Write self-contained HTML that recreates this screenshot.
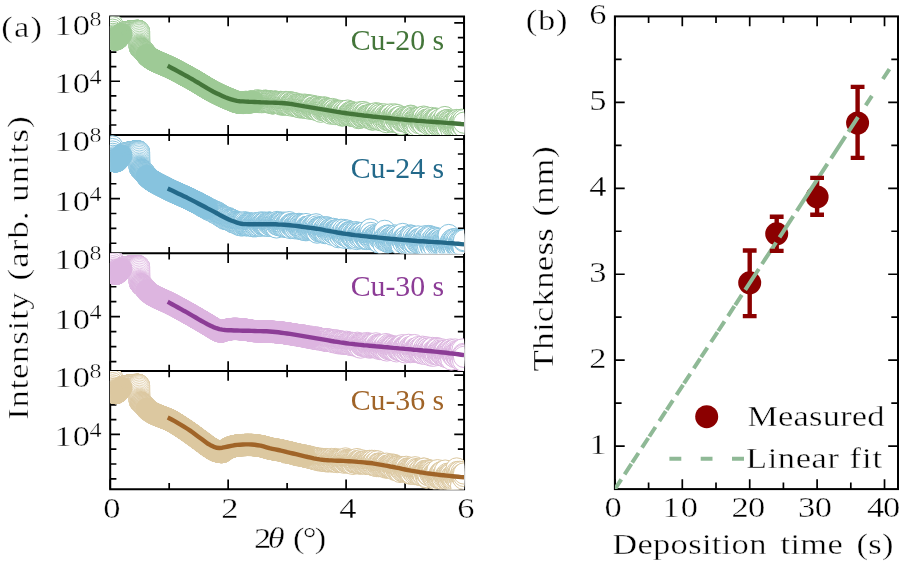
<!DOCTYPE html><html><head><meta charset="utf-8"><title>XRR figure</title><style>html,body{margin:0;padding:0;background:#fff}svg{display:block}</style></head><body><svg width="900" height="562" viewBox="0 0 900 562" font-family='"Liberation Serif", "DejaVu Serif", serif'>
<rect width="900" height="562" fill="#fff"/>
<path d="M110.20 16.40H464.05M110.20 134.90H464.05M110.20 253.20H464.05M110.20 371.00H464.05M110.20 489.20H464.05M110.20 15.40V490.20M464.05 15.40V490.20" stroke="#000" stroke-width="2.0" fill="none"/>
<path d="M110.20 16.40v9.8M110.20 134.90v-9.8M110.20 134.90v9.8M110.20 253.20v-9.8M110.20 253.20v9.8M110.20 371.00v-9.8M110.20 371.00v9.8M110.20 489.20v-9.8M169.18 16.40v6.2M169.18 134.90v-6.2M169.18 134.90v6.2M169.18 253.20v-6.2M169.18 253.20v6.2M169.18 371.00v-6.2M169.18 371.00v6.2M169.18 489.20v-6.2M228.15 16.40v9.8M228.15 134.90v-9.8M228.15 134.90v9.8M228.15 253.20v-9.8M228.15 253.20v9.8M228.15 371.00v-9.8M228.15 371.00v9.8M228.15 489.20v-9.8M287.12 16.40v6.2M287.12 134.90v-6.2M287.12 134.90v6.2M287.12 253.20v-6.2M287.12 253.20v6.2M287.12 371.00v-6.2M287.12 371.00v6.2M287.12 489.20v-6.2M346.10 16.40v9.8M346.10 134.90v-9.8M346.10 134.90v9.8M346.10 253.20v-9.8M346.10 253.20v9.8M346.10 371.00v-9.8M346.10 371.00v9.8M346.10 489.20v-9.8M405.07 16.40v6.2M405.07 134.90v-6.2M405.07 134.90v6.2M405.07 253.20v-6.2M405.07 253.20v6.2M405.07 371.00v-6.2M405.07 371.00v6.2M405.07 489.20v-6.2M464.05 16.40v9.8M464.05 134.90v-9.8M464.05 134.90v9.8M464.05 253.20v-9.8M464.05 253.20v9.8M464.05 371.00v-9.8M464.05 371.00v9.8M464.05 489.20v-9.8M110.20 125.01h6.2M464.05 125.01h-6.2M110.20 110.43h6.2M464.05 110.43h-6.2M110.20 95.85h6.2M464.05 95.85h-6.2M110.20 81.27h9.8M464.05 81.27h-9.8M110.20 66.69h6.2M464.05 66.69h-6.2M110.20 52.11h6.2M464.05 52.11h-6.2M110.20 37.53h6.2M464.05 37.53h-6.2M110.20 22.95h9.8M464.05 22.95h-9.8M110.20 243.26h6.2M464.05 243.26h-6.2M110.20 228.38h6.2M464.05 228.38h-6.2M110.20 213.50h6.2M464.05 213.50h-6.2M110.20 198.62h9.8M464.05 198.62h-9.8M110.20 183.74h6.2M464.05 183.74h-6.2M110.20 168.86h6.2M464.05 168.86h-6.2M110.20 153.98h6.2M464.05 153.98h-6.2M110.20 139.10h9.8M464.05 139.10h-9.8M110.20 361.59h6.2M464.05 361.59h-6.2M110.20 346.62h6.2M464.05 346.62h-6.2M110.20 331.65h6.2M464.05 331.65h-6.2M110.20 316.68h9.8M464.05 316.68h-9.8M110.20 301.71h6.2M464.05 301.71h-6.2M110.20 286.74h6.2M464.05 286.74h-6.2M110.20 271.77h6.2M464.05 271.77h-6.2M110.20 256.80h9.8M464.05 256.80h-9.8M110.20 478.80h6.2M464.05 478.80h-6.2M110.20 464.00h6.2M464.05 464.00h-6.2M110.20 449.20h6.2M464.05 449.20h-6.2M110.20 434.40h9.8M464.05 434.40h-9.8M110.20 419.60h6.2M464.05 419.60h-6.2M110.20 404.80h6.2M464.05 404.80h-6.2M110.20 390.00h6.2M464.05 390.00h-6.2M110.20 375.20h9.8M464.05 375.20h-9.8" stroke="#000" stroke-width="1.7" fill="none"/>
<clipPath id="c0"><rect x="110.20" y="16.40" width="353.85" height="118.50"/></clipPath>
<marker id="m0" markerUnits="userSpaceOnUse" markerWidth="24" markerHeight="24" refX="12" refY="12" overflow="visible"><circle cx="12" cy="12" r="10.65" fill="#fff" stroke="#9ECA96" stroke-width="1.0"/></marker>
<marker id="n0" markerUnits="userSpaceOnUse" markerWidth="24" markerHeight="24" refX="12" refY="12" overflow="visible"><circle cx="12" cy="12" r="10.65" fill="#fff" stroke="#9ECA96" stroke-width="0.75"/></marker>
<g clip-path="url(#c0)"><polyline points="112.26,24.50 112.41,27.19 112.56,29.70 112.71,31.96 112.85,33.93 113.00,35.54 113.15,36.75 113.30,37.50 113.44,37.96 113.59,38.34 113.74,38.64 113.89,38.86 114.03,39.00 114.18,39.09 114.33,39.18 114.48,39.26 114.62,39.33 114.77,39.39 114.92,39.43 115.07,39.47 115.21,39.49 115.36,39.50 115.51,39.50 115.66,39.48 115.80,39.45 115.95,39.42 116.10,39.37 116.24,39.32 116.39,39.26 116.54,39.19 116.69,39.12 116.83,39.04 116.98,38.96 117.13,38.88 117.28,38.80 117.42,38.71 117.57,38.59 117.72,38.45 117.87,38.29 118.01,38.12 118.16,37.94 118.31,37.75 118.46,37.54 118.60,37.34 118.75,37.13 118.90,36.93 119.05,36.72 119.19,36.53 119.34,36.34 119.49,36.16 119.64,36.00 119.78,35.84 119.93,35.69 120.08,35.53 120.23,35.37 120.37,35.21 120.52,35.06 120.67,34.90 120.82,34.75 120.96,34.61 121.11,34.47 121.26,34.33 121.41,34.21 121.55,34.09 121.70,33.98 121.85,33.89 122.00,33.80 122.14,33.72 122.29,33.64 122.44,33.57 122.58,33.50 122.73,33.43 122.88,33.36 123.03,33.29 123.17,33.23 123.32,33.17 123.47,33.11 123.62,33.05 123.76,33.00 123.91,32.94 124.06,32.89 124.21,32.84 124.35,32.79 124.50,32.74 124.65,32.69 124.80,32.65 124.94,32.61 125.09,32.56 125.24,32.52 125.39,32.48 125.53,32.44 125.68,32.41 125.83,32.37 125.98,32.33 126.12,32.30 126.27,32.27 126.42,32.23 126.57,32.20 126.71,32.17 126.86,32.14 127.01,32.11 127.16,32.08 127.30,32.05 127.45,32.02 127.60,31.99 127.75,31.96 127.89,31.94 128.04,31.91 128.19,31.88 128.33,31.86 128.48,31.83 128.63,31.81 128.78,31.79 128.92,31.76 129.07,31.74 129.22,31.72 129.37,31.70 129.51,31.68 129.66,31.65 129.81,31.63 129.96,31.61 130.10,31.59 130.25,31.57 130.40,31.56 130.55,31.54 130.69,31.52 130.84,31.50 130.99,31.48 131.14,31.46 131.28,31.45 131.43,31.43 131.58,31.41 131.73,31.40 131.87,31.38 132.02,31.36 132.17,31.35 132.32,31.33 132.46,31.31 132.61,31.30 132.76,31.28 132.91,31.27 133.05,31.25 133.20,31.24 133.35,31.23 133.50,31.21 133.64,31.20 133.79,31.19 133.94,31.17 134.08,31.16 134.23,31.15 134.38,31.14 134.53,31.13 134.67,31.12 134.82,31.11 134.97,31.10 135.12,31.09 135.26,31.08 135.41,31.07 135.56,31.06 135.71,31.05 135.85,31.04 136.00,31.03 136.15,31.03 136.30,31.02 136.44,31.01 136.59,31.00 136.74,30.99 136.89,30.98 137.03,30.98 137.18,30.97 137.33,30.97 137.48,30.96 137.62,30.96 137.77,30.95 137.92,30.95 138.07,30.95 138.21,30.95 138.36,30.95 138.51,30.97 138.66,31.00 138.80,31.06 138.95,31.33" fill="none" stroke="none" marker-start="url(#m0)" marker-mid="url(#m0)" marker-end="url(#m0)"/><polyline points="139.01,31.80 139.06,32.46 139.11,33.54 139.15,34.95 139.20,36.59 139.25,38.36 139.30,40.16 139.35,41.90 139.40,43.46 139.44,44.77 139.49,45.72 139.54,46.20 139.69,46.79 139.83,47.23 139.98,47.56 140.13,47.82 140.28,48.03 140.42,48.24 140.57,48.45 140.72,48.63 140.87,48.79" fill="none" stroke="none" marker-start="url(#n0)" marker-mid="url(#n0)" marker-end="url(#n0)"/><polyline points="141.01,48.94 141.16,49.09 141.31,49.22 141.46,49.35 141.60,49.47 141.75,49.60 141.90,49.72 142.05,49.84 142.19,49.94 142.34,50.05 142.49,50.15 142.64,50.26 142.78,50.38 142.93,50.50 143.08,50.64 143.23,50.78 143.37,50.93 143.52,51.09 143.67,51.25 143.82,51.41 143.96,51.58 144.11,51.75 144.26,51.92 144.41,52.09 144.55,52.26 144.70,52.43 144.85,52.60 145.00,52.77 145.14,52.95 145.29,53.12 145.44,53.30 145.59,53.48 145.88,53.85 146.17,54.22 146.47,54.58 146.76,54.93 147.06,55.27 147.35,55.59 147.65,55.89 147.94,56.16 148.24,56.42 148.53,56.67 148.83,56.92 149.12,57.15 149.42,57.38 149.71,57.60 150.01,57.81 150.30,58.02 150.60,58.22 150.89,58.42 151.19,58.61 151.48,58.80 151.78,58.98 152.07,59.16 152.37,59.34 152.66,59.51 152.96,59.67 153.25,59.83 153.55,59.99 153.84,60.15 154.14,60.30 154.43,60.45 154.73,60.60 155.02,60.75 155.32,60.89 155.61,61.04 155.91,61.18 156.20,61.32 156.50,61.45 156.79,61.59 157.09,61.72 157.38,61.86 157.67,61.99 157.97,62.12 158.26,62.25 158.56,62.38 158.85,62.51 159.15,62.64 159.44,62.77 159.74,62.90 160.03,63.03 160.33,63.16 160.62,63.28 160.92,63.41 161.21,63.53 161.51,63.66 161.80,63.78 162.10,63.90 162.39,64.03 162.69,64.15 162.98,64.27 163.28,64.40 163.57,64.52 163.87,64.65 164.16,64.77 164.46,64.90 164.75,65.03 165.05,65.16 165.34,65.28 165.64,65.41 165.93,65.54 166.23,65.67 166.52,65.80 166.82,65.93 167.11,66.06 167.41,66.19 167.70,66.32 168.00,66.45 168.29,66.59 168.59,66.72 168.88,66.86 169.18,67.00 169.47,67.14 169.76,67.28 170.06,67.42 170.35,67.57 170.65,67.71 170.94,67.85 171.24,68.00 171.53,68.14 171.83,68.29 172.12,68.43 172.42,68.58 172.71,68.72 173.01,68.87 173.30,69.02 173.60,69.17 173.89,69.32 174.19,69.47 174.48,69.62 174.78,69.77 175.07,69.92 175.37,70.07 175.66,70.22 175.96,70.38 176.25,70.53 176.55,70.68 176.84,70.84 177.14,70.99 177.43,71.14 177.73,71.30 178.02,71.45 178.32,71.61 178.61,71.77 178.91,71.92 179.20,72.08 179.50,72.24 179.79,72.39 180.09,72.55 180.38,72.71 180.68,72.87 180.97,73.03 181.26,73.19 181.56,73.35 181.85,73.51 182.15,73.67 182.44,73.83 182.74,73.99 183.03,74.15 183.33,74.31 183.62,74.47 183.92,74.63 184.21,74.79 184.51,74.95 184.80,75.12 185.10,75.28 185.39,75.44 185.69,75.60 185.98,75.77 186.28,75.93 186.57,76.09 186.87,76.25 187.16,76.42 187.46,76.58 187.75,76.74 188.05,76.91 188.34,77.07 188.64,77.23 188.93,77.40 189.23,77.56 189.52,77.73 189.82,77.89 190.11,78.05 190.41,78.22 190.70,78.38 191.00,78.54 191.29,78.71 191.59,78.87 191.88,79.04 192.18,79.20 192.47,79.36 192.77,79.53 193.06,79.70 193.35,79.86 193.65,80.03 193.94,80.20 194.24,80.37 194.53,80.54 194.83,80.71 195.12,80.89 195.42,81.06 195.71,81.23 196.01,81.41 196.30,81.58 196.60,81.76 196.89,81.94 197.19,82.11 197.48,82.29 197.78,82.47 198.07,82.65 198.37,82.82 198.66,83.00 198.96,83.18 199.25,83.36 199.55,83.54 199.84,83.72 200.14,83.90 200.43,84.08 200.73,84.27 201.02,84.45 201.32,84.63 201.61,84.81 201.91,84.99 202.20,85.17 202.50,85.35 202.79,85.53 203.09,85.71 203.38,85.89 203.68,86.07 203.97,86.25 204.27,86.43 204.56,86.61 204.85,86.79 205.15,86.97 205.44,87.15 205.74,87.33 206.03,87.51 206.33,87.68 206.62,87.86 206.92,88.04 207.21,88.21 207.51,88.39 207.80,88.56 208.10,88.73 208.39,88.91 208.69,89.08 208.98,89.25 209.28,89.42 209.57,89.59 209.87,89.76 210.16,89.93 210.46,90.09 210.75,90.26 211.05,90.42 211.34,90.59 211.64,90.75 211.93,90.91 212.23,91.07 212.52,91.23 212.82,91.39 213.11,91.54 213.41,91.70 213.70,91.85 214.00,92.00 214.29,92.16 214.59,92.31 214.88,92.45 215.18,92.60 215.47,92.75 215.77,92.89 216.06,93.04 216.36,93.18 216.65,93.33 216.94,93.48 217.24,93.62 217.53,93.77 217.83,93.92 218.12,94.06 218.42,94.21 218.71,94.35 219.01,94.50 219.30,94.64 219.60,94.78 219.89,94.92 220.19,95.06 220.48,95.20 220.78,95.36 221.07,95.51 221.37,95.61 221.66,95.74 221.96,95.90 222.25,96.09 222.55,96.09 222.84,96.34 223.14,96.41 223.43,96.63 223.73,96.67 224.02,96.84 224.32,96.91 224.61,97.06 224.91,97.33 225.20,97.43 225.50,97.48 225.79,97.57 226.09,97.63 226.38,97.86 226.68,98.01 226.97,98.13 227.27,98.25 227.56,98.28 227.86,98.49 228.15,98.62 228.44,98.86 228.74,99.04 229.03,98.97 229.33,99.02 229.62,99.21 229.92,99.27 230.21,99.37 230.51,99.57 230.80,99.58 231.10,99.91 231.39,99.95 231.69,100.12 231.98,100.19 232.28,100.25 232.57,100.35 232.87,100.57 233.16,100.65 233.46,100.89 233.75,100.99 234.05,100.91 234.34,101.24 234.64,101.14 234.93,101.37 235.23,101.54 235.52,101.35 235.82,101.82 236.11,101.93 236.41,101.98 236.70,102.02 237.00,102.12 237.29,102.08 237.59,102.29 237.88,102.30 238.18,102.49 238.47,102.29 238.77,102.61 239.06,102.64 239.36,102.62 239.65,102.58 239.95,102.82 240.24,102.37 240.53,102.84 240.83,102.81 241.12,102.83 241.42,102.86 241.71,102.63 242.01,102.72 242.30,102.92 242.60,102.86 242.89,102.80 243.19,102.36 243.48,102.85 243.78,102.99 244.07,102.93 244.37,102.70 244.66,102.21 244.96,102.84 245.25,102.52 245.55,101.85 245.84,102.60 246.14,102.05 246.43,102.07 246.73,102.21 247.02,102.72 247.32,102.22 247.61,102.37 247.91,102.77 248.20,102.69 248.50,102.16 248.79,102.08 249.09,101.74 249.38,101.88 249.68,102.19 249.97,102.15 250.27,102.04 250.56,102.29 250.86,101.70 251.15,101.90 251.45,102.13 251.74,102.06 252.03,102.20 252.33,101.95 252.62,101.69 252.92,101.89 253.21,101.40 253.51,101.15 253.80,101.91 254.10,101.66 254.39,101.77 254.69,101.02 254.98,101.48 255.28,101.37 255.57,101.25 255.87,100.71 256.16,101.41 256.46,101.86 256.75,101.64 257.05,101.25 257.34,101.46 257.64,101.74 257.93,100.34 258.23,101.37 258.52,101.62 258.82,101.67 259.11,102.07 259.41,101.83 259.70,101.49 260.00,101.48 260.29,101.67 260.59,101.11 260.88,101.32 261.18,101.72 261.47,102.17 261.77,101.26 262.06,101.31 262.36,101.43 262.65,101.94 262.95,101.34 263.24,102.02 263.54,100.93 263.83,101.30 264.12,101.30 264.42,101.77 264.71,101.91 265.01,100.74 265.30,101.03 265.60,101.64 265.89,101.19 266.19,100.80 266.48,102.05 266.78,101.82 267.07,101.85 267.37,101.40 267.66,102.17 267.96,101.57 268.25,102.27 268.55,101.30 268.84,101.35 269.14,101.92 269.43,101.49 269.73,102.23 270.02,102.05 270.32,101.47 270.61,102.02 270.91,101.83 271.20,102.54 271.50,101.75 271.79,101.89 272.09,102.81 272.38,103.40 272.68,103.31 272.97,102.29 273.27,102.40 273.56,103.16 273.86,102.28 274.15,101.83 274.45,102.47 274.74,102.69 275.04,101.99 275.33,101.55 275.62,101.69 275.92,102.93 276.21,102.13 276.51,102.51 276.80,102.75 277.10,103.01 277.39,102.47 277.69,102.99 277.98,102.18 278.28,102.52 278.57,102.14 278.87,103.47 279.16,102.79 279.46,102.38 279.75,102.63 280.05,102.73 280.34,103.33 280.64,101.91 280.93,102.28 281.23,102.72 281.52,104.59 281.82,103.61 282.11,102.95 282.41,103.50 282.70,104.40 283.00,102.94 283.29,102.88 283.59,103.94 283.88,103.50 284.18,103.64 284.47,102.89 284.77,104.54 285.06,104.43 285.36,103.69 285.65,103.81 285.95,101.99 286.24,103.84 286.54,103.31 286.83,103.77 287.13,103.98 287.42,103.30 287.71,102.39 288.01,103.87 288.30,103.13 288.60,103.45 288.89,103.29 289.19,103.52 289.48,102.15 289.78,104.72 290.07,104.06 290.37,104.73 290.66,105.41 290.96,104.02 291.25,102.72 291.55,103.43 291.84,103.24 292.14,103.81 292.43,104.28 292.73,102.77 293.02,104.57 293.32,103.22 293.61,104.63 293.91,104.37 294.20,104.26 294.50,104.49 294.79,104.18 295.09,104.17 295.38,103.39 295.68,104.72 295.97,106.24 296.27,106.40 296.56,105.94 296.86,105.50 297.15,104.46 297.45,106.20 297.74,105.05 298.04,105.09 298.33,104.97 298.63,105.33 298.92,104.95 299.21,105.29 299.51,104.52 299.80,105.16 300.10,107.40 300.39,105.51 300.69,105.43 300.98,106.12 301.28,106.32 301.57,104.85 301.87,105.66 302.16,106.67 302.46,106.18 302.75,106.10 303.05,107.38 303.34,105.53 303.64,106.23 303.93,105.77 304.23,107.56 304.52,104.62 304.82,105.79 305.11,105.97 305.41,107.07 305.70,107.07 306.00,107.83 306.29,105.25 306.59,107.37 306.88,106.49 307.18,106.20 307.47,107.34 307.77,106.08 308.06,105.08 308.36,106.67 308.65,105.70 308.95,106.52 309.24,107.51 309.54,107.50 309.83,108.73 310.13,107.13 310.42,105.94 310.72,106.71 311.01,106.60 311.30,106.37 311.60,107.97 311.89,107.00 312.19,105.78 312.48,108.37 312.78,107.65 313.07,108.14 313.37,107.95 313.66,108.50 313.96,107.98 314.25,109.19 314.55,108.45 314.84,108.46 315.14,108.53 315.43,106.75 315.73,108.06 316.02,108.02 316.32,108.53 316.61,107.02 316.91,110.05 317.20,108.57 317.50,107.30 317.79,106.84 318.09,108.33 318.38,108.57 318.68,107.98 318.97,108.85 319.27,108.15 319.56,109.42 319.86,108.16 320.15,108.92 320.45,110.02 320.74,111.72 321.04,108.06 321.33,108.67 321.63,108.33 321.92,110.08 322.22,108.10 322.51,108.85 322.80,109.38 323.10,108.42 323.39,108.49 323.69,109.06 323.98,107.37 324.28,108.11 324.57,109.27 324.87,109.93 325.16,109.62 325.46,107.94 325.75,109.41 326.05,110.84 326.34,110.63 326.64,109.98 326.93,109.15 327.23,110.87 327.52,109.58 327.82,108.98 328.11,109.43 328.41,111.99 328.70,110.67 329.00,111.78 329.29,109.99 329.59,111.64 329.88,109.95 330.18,110.50 330.47,113.55 330.77,111.66 331.06,110.26 331.36,110.79 331.65,111.31 331.95,112.38 332.24,110.47 332.54,109.07 332.83,110.81 333.13,111.20 333.42,111.36 333.72,112.82 334.01,111.70 334.31,112.34 334.60,110.13 334.89,112.51 335.19,114.01 335.48,112.50 335.78,111.93 336.07,111.86 336.37,113.86 336.66,110.66 336.96,111.69 337.25,112.42 337.55,112.82 337.84,111.44 338.14,112.39 338.43,111.72 338.73,112.25 339.02,111.99 339.32,110.80 339.61,112.22 339.91,113.38 340.20,111.15 340.50,112.09 340.79,113.26 341.09,111.15 341.38,112.75 341.68,111.24 341.97,114.04 342.27,115.56 342.56,115.25 342.86,112.47 343.15,113.73 343.45,112.99 343.74,113.01 344.04,114.89 344.33,111.28 344.63,114.36 344.92,112.99 345.22,114.90 345.51,113.38 345.81,112.31 346.10,113.58 346.39,114.21 346.69,113.35 346.98,113.98 347.28,112.70 347.57,110.63 347.87,114.64 348.16,114.42 348.46,113.74 348.75,113.67 349.05,114.99 349.34,113.05 349.64,112.76 349.93,113.49 350.23,115.37 350.52,111.96 350.82,115.46 351.11,113.04 351.41,112.45 351.70,115.68 352.00,113.88 352.29,112.28 352.59,113.60 352.88,115.40 353.18,115.80 353.47,113.62 353.77,114.80 354.06,115.26 354.36,113.43 354.65,114.85 354.95,114.35 355.24,113.69 355.54,113.78 355.83,114.60 356.13,114.58 356.42,113.79 356.72,114.02 357.01,116.22 357.31,114.99 357.60,115.98 357.90,116.46 358.19,115.63 358.48,118.06 358.78,113.70 359.07,116.06 359.37,114.49 359.66,117.64 359.96,117.46 360.25,112.24 360.55,113.69 360.84,116.08 361.14,116.30 361.43,116.26 361.73,115.13 362.02,115.93 362.32,116.25 362.61,115.22 362.91,116.88 363.20,112.08 363.50,116.37 363.79,113.95 364.09,116.93 364.38,115.20 364.68,114.26 364.97,116.17 365.27,114.29 365.56,114.32 365.86,113.37 366.15,115.71 366.45,116.53 366.74,117.36 367.04,115.64 367.33,117.47 367.63,115.94 367.92,115.81 368.22,116.86 368.51,117.63 368.81,115.53 369.10,115.71 369.40,115.87 369.69,116.28 369.98,114.80 370.28,117.80 370.57,115.63 370.87,117.00 371.16,115.03 371.46,116.90 371.75,116.99 372.05,115.76 372.34,119.60 372.64,117.06 372.93,119.30 373.23,118.05 373.52,115.53 373.82,116.00 374.11,117.33 374.41,116.77 374.70,116.78 375.00,116.28 375.29,113.88 375.59,116.44 375.88,113.28 376.18,117.46 376.47,115.73 376.77,115.77 377.06,116.60 377.36,117.43 377.65,114.70 377.95,114.22 378.24,115.35 378.54,113.79 378.83,115.57 379.13,119.77 379.42,115.48 379.72,118.31 380.01,115.02 380.31,117.79 380.60,116.80 380.90,117.26 381.19,118.33 381.49,120.33 381.78,117.78 382.07,117.69 382.37,115.89 382.66,118.52 382.96,117.16 383.25,119.00 383.55,117.56 383.84,120.59 384.14,114.36 384.43,117.23 384.73,119.25 385.02,117.19 385.32,116.47 385.61,117.40 385.91,115.53 386.20,118.11 386.50,122.10 386.79,119.93 387.09,116.10 387.38,116.53 387.68,117.36 387.97,119.81 388.27,116.70 388.56,116.95 388.86,119.70 389.15,119.70 389.45,117.58 389.74,116.31 390.04,115.59 390.33,117.10 390.63,114.44 390.92,119.69 391.22,117.30 391.51,119.28 391.81,121.75 392.10,120.56 392.40,116.48 392.69,120.09 392.99,120.63 393.28,117.28 393.57,116.94 393.87,118.47 394.16,115.83 394.46,121.35 394.75,114.43 395.05,116.79 395.34,118.32 395.64,118.42 395.93,119.16 396.23,119.38 396.52,118.53 396.82,121.00 397.11,115.08 397.41,119.00 397.70,117.72 398.00,119.29 398.29,119.48 398.59,117.44 398.88,117.96 399.18,120.62 399.47,119.83 399.77,117.96 400.06,123.01 400.36,123.54 400.65,116.59 400.95,119.88 401.24,124.01 401.54,120.83 401.83,119.81 402.13,119.04 402.42,118.44 402.72,119.08 403.01,118.48 403.31,120.94 403.60,118.81 403.90,118.76 404.19,117.34 404.49,119.55 404.78,117.97 405.08,119.35 405.37,121.70 405.66,120.44 405.96,120.73 406.25,120.48 406.55,119.94 406.84,119.60 407.14,119.28 407.43,121.36 407.73,117.84 408.02,122.53 408.32,120.04 408.61,118.55 408.91,119.08 409.20,118.74 409.50,120.39 409.79,118.71 410.09,122.35 410.38,118.63 410.68,115.74 410.97,118.77 411.27,116.29 411.56,120.17 411.86,122.36 412.15,121.58 412.45,117.69 412.74,118.84 413.04,123.90 413.33,121.03 413.63,120.43 413.92,122.55 414.22,125.36 414.51,123.08 414.81,120.80 415.10,121.25 415.40,121.81 415.69,119.36 415.99,118.49 416.28,120.75 416.58,118.76 416.87,120.56 417.16,120.91 417.46,125.47 417.75,119.03 418.05,120.53 418.34,120.47 418.64,121.72 418.93,122.98 419.23,119.87 419.52,119.22 419.82,117.56 420.11,119.04 420.41,122.07 420.70,121.08 421.00,118.92 421.29,120.26 421.59,121.12 421.88,122.12 422.18,119.87 422.47,120.60 422.77,117.36 423.06,118.77 423.36,124.56 423.65,116.64 423.95,120.52 424.24,121.71 424.54,120.49 424.83,119.60 425.13,121.19 425.42,121.33 425.72,121.19 426.01,117.42 426.31,121.09 426.60,119.62 426.90,120.29 427.19,121.95 427.49,122.85 427.78,123.42 428.08,120.47 428.37,123.53 428.67,124.09 428.96,124.03 429.25,124.60 429.55,121.33 429.84,121.29 430.14,123.46 430.43,118.76 430.73,122.18 431.02,120.60 431.32,120.97 431.61,118.01 431.91,119.88 432.20,121.79 432.50,123.79 432.79,124.03 433.09,121.72 433.38,121.50 433.68,120.12 433.97,122.84 434.27,121.43 434.56,123.33 434.86,125.88 435.15,121.97 435.45,118.76 435.74,120.18 436.04,118.88 436.33,119.47 436.63,125.04 436.92,122.67 437.22,118.81 437.51,123.67 437.81,125.04 438.10,121.45 438.40,120.76 438.69,121.54 438.99,122.95 439.28,123.78 439.58,125.02 439.87,125.11 440.17,125.08 440.46,125.50 440.75,123.94 441.05,119.00 441.34,122.19 441.64,123.22 441.93,121.66 442.23,124.63 442.52,121.75 442.82,120.48 443.11,125.92 443.41,124.16 443.70,123.16 444.00,124.81 444.29,125.14 444.59,123.51 444.88,117.08 445.18,121.21 445.47,121.73 445.77,120.53 446.06,123.29 446.36,125.62 446.65,121.75 446.95,120.26 447.24,127.64 447.54,121.89 447.83,120.09 448.13,123.54 448.42,124.01 448.72,121.38 449.01,124.91 449.31,121.93 449.60,120.93 449.90,123.54 450.19,124.96 450.49,121.67 450.78,123.97 451.08,122.99 451.37,129.93 451.67,121.57 451.96,126.57 452.26,123.18 452.55,123.02 452.84,125.07 453.14,125.50 453.43,126.42 453.73,124.20 454.02,122.00 454.32,122.17 454.61,124.70 454.91,124.90 455.20,126.89 455.50,124.56 455.79,126.13 456.09,127.26 456.38,124.01 456.68,120.03 456.97,120.80 457.27,120.19 457.56,127.58 457.86,121.66 458.15,126.75 458.45,125.20 458.74,127.99 459.04,126.27 459.33,123.59 459.63,123.37 459.92,124.09 460.22,124.34 460.51,122.62 460.81,123.87 461.10,127.95 461.40,119.79 461.69,124.66 461.99,121.79 462.28,124.53 462.58,126.17 462.87,123.97 463.17,126.06 463.46,120.19 463.76,126.94 464.05,122.69" fill="none" stroke="none" marker-start="url(#m0)" marker-mid="url(#m0)" marker-end="url(#m0)"/><path d="M115.5 39.5L116.1 39.4L116.7 39.1L117.3 38.8L117.9 38.3L118.5 37.5L119.0 36.7L119.6 36.0L120.2 35.4L120.8 34.8L121.4 34.2" fill="none" stroke="#9ECA96" stroke-width="22.3" stroke-linejoin="round" stroke-linecap="round"/><path d="M122.0 33.8L122.6 33.5L123.2 33.2L123.8 33.0L124.4 32.8L124.9 32.6L125.5 32.4L126.1 32.3L126.7 32.2L127.3 32.0L127.9 31.9L128.5 31.8L129.1 31.7L129.7 31.7L130.3 31.6L130.8 31.5" fill="none" stroke="#9ECA96" stroke-width="3" stroke-linejoin="round" stroke-linecap="butt"/><path d="M146.8 54.9L147.9 56.2L149.1 57.2L150.3 58.0L151.5 58.8L152.7 59.5L153.8 60.1L155.0 60.7L156.2 61.3L157.4 61.9L158.6 62.4L159.7 62.9L160.9 63.4L162.1 63.9L163.3 64.4L164.5 64.9L165.6 65.4L166.8 65.9L168.0 66.5L169.2 67.0L170.4 67.6L171.5 68.1L172.7 68.7L173.9 69.3L175.1 69.9L176.3 70.5L177.4 71.1L178.6 71.8L179.8 72.4L181.0 73.0L182.1 73.7L183.3 74.3L184.5 75.0L185.7 75.6L186.9 76.3L188.0 76.9L189.2 77.6L190.4 78.2L191.6 78.9L192.8 79.5L193.9 80.2L195.1 80.9L196.3 81.6L197.5 82.3L198.7 83.0L199.8 83.7L201.0 84.4L202.2 85.2L203.4 85.9L204.6 86.6L205.7 87.3L206.9 88.0L208.1 88.7L209.3 89.4L210.5 90.1L211.6 90.7L212.8 91.4L214.0 92.0L215.2 92.6L216.4 93.2L217.5 93.8L218.7 94.4L219.9 94.9L221.1 95.5L222.3 96.0L223.4 96.6L224.6 97.1L225.8 97.6L227.0 98.1L228.2 98.6L229.3 99.1L230.5 99.6L231.7 100.1L232.9 100.6L234.0 101.1L235.2 101.6L236.4 102.0L237.6 102.3L238.8 102.6L239.9 102.7L241.1 102.8L242.3 102.8L243.5 102.7L244.7 102.6L245.8 102.5L247.0 102.4L248.2 102.2L249.4 102.1L250.6 102.0L251.7 101.9L252.9 101.8" fill="none" stroke="#9ECA96" stroke-width="22.3" stroke-linejoin="round" stroke-linecap="round"/><path d="M167.7 65.8L169.2 66.6L172.1 68.2L175.1 69.8L178.0 71.4L181.0 73.0L183.9 74.6L186.9 76.2L189.8 77.9L192.8 79.5L195.7 81.3L198.7 83.0L201.6 84.8L204.6 86.6L207.5 88.4L210.5 90.1L213.4 91.7L216.4 93.2L219.3 94.6L222.3 96.0L225.2 97.3L228.2 98.4L231.1 99.3L234.0 100.2L237.0 100.9L239.9 101.2L242.9 101.4L245.8 101.6L248.8 101.8L251.7 101.9L254.7 102.0L257.6 102.1L260.6 102.3L263.5 102.4L266.5 102.5L269.4 102.6L272.4 102.6L275.3 102.7L278.3 102.9L281.2 103.0L284.2 103.2L287.1 103.5L290.1 103.9L293.0 104.3L296.0 104.8L298.9 105.3L301.9 105.8L304.8 106.4L307.8 106.9L310.7 107.4L313.7 107.9L316.6 108.4L319.6 108.9L322.5 109.4L325.5 109.9L328.4 110.4L331.4 110.9L334.3 111.4L337.3 111.9L340.2 112.3L343.2 112.8L346.1 113.2L349.0 113.6L352.0 114.0L354.9 114.4L357.9 114.8L360.8 115.1L363.8 115.5L366.7 115.8L369.7 116.1L372.6 116.5L375.6 116.8L378.5 117.1L381.5 117.4L384.4 117.7L387.4 118.0L390.3 118.3L393.3 118.6L396.2 118.9L399.2 119.2L402.1 119.4L405.1 119.7L408.0 120.0L411.0 120.2L413.9 120.4L416.9 120.7L419.8 120.9L422.8 121.1L425.7 121.4L428.7 121.6L431.6 121.8L434.6 122.0L437.5 122.2L440.5 122.4L443.4 122.6L446.4 122.9L449.3 123.1L452.3 123.3L455.2 123.5L458.2 123.7L461.1 124.0L464.1 124.2" fill="none" stroke="#44763A" stroke-width="4.4" stroke-linejoin="round"/></g>
<text transform="translate(444.20,50.40)" font-size="29.8" text-anchor="end" fill="#44763A">Cu-20 s</text>
<text transform="translate(55.20,34.85) translate(-0.6,0) scale(1.17,1)" font-size="29.5" text-anchor="start" fill="#000" stroke="#fff" stroke-width="0.4" textLength="30.26" lengthAdjust="spacing">10</text>
<text transform="translate(90.00,25.65) translate(-0.6,0) scale(1.17,1)" font-size="20.6" text-anchor="start" fill="#000" stroke="#fff" stroke-width="0.4" textLength="10.00" lengthAdjust="spacing">8</text>
<text transform="translate(55.20,93.17) translate(-0.6,0) scale(1.17,1)" font-size="29.5" text-anchor="start" fill="#000" stroke="#fff" stroke-width="0.4" textLength="30.26" lengthAdjust="spacing">10</text>
<text transform="translate(90.00,83.97) translate(-0.6,0) scale(1.17,1)" font-size="20.6" text-anchor="start" fill="#000" stroke="#fff" stroke-width="0.4" textLength="10.00" lengthAdjust="spacing">4</text>
<clipPath id="c1"><rect x="110.20" y="134.90" width="353.85" height="118.30"/></clipPath>
<marker id="m1" markerUnits="userSpaceOnUse" markerWidth="24" markerHeight="24" refX="12" refY="12" overflow="visible"><circle cx="12" cy="12" r="10.65" fill="#fff" stroke="#87C3DE" stroke-width="1.0"/></marker>
<marker id="n1" markerUnits="userSpaceOnUse" markerWidth="24" markerHeight="24" refX="12" refY="12" overflow="visible"><circle cx="12" cy="12" r="10.65" fill="#fff" stroke="#87C3DE" stroke-width="0.75"/></marker>
<g clip-path="url(#c1)"><polyline points="112.26,146.40 112.41,149.09 112.56,151.60 112.71,153.86 112.85,155.83 113.00,157.44 113.15,158.65 113.30,159.40 113.44,159.86 113.59,160.24 113.74,160.54 113.89,160.76 114.03,160.90 114.18,160.99 114.33,161.08 114.48,161.16 114.62,161.23 114.77,161.29 114.92,161.33 115.07,161.37 115.21,161.39 115.36,161.40 115.51,161.40 115.66,161.38 115.80,161.35 115.95,161.30 116.10,161.25 116.24,161.19 116.39,161.12 116.54,161.05 116.69,160.97 116.83,160.88 116.98,160.79 117.13,160.70 117.28,160.61 117.42,160.51 117.57,160.38 117.72,160.23 117.87,160.06 118.01,159.88 118.16,159.69 118.31,159.48 118.46,159.27 118.60,159.05 118.75,158.83 118.90,158.61 119.05,158.40 119.19,158.19 119.34,157.99 119.49,157.80 119.64,157.63 119.78,157.46 119.93,157.29 120.08,157.13 120.23,156.96 120.37,156.79 120.52,156.62 120.67,156.46 120.82,156.30 120.96,156.14 121.11,155.99 121.26,155.85 121.41,155.71 121.55,155.58 121.70,155.46 121.85,155.35 122.00,155.25 122.14,155.16 122.29,155.07 122.44,154.98 122.58,154.90 122.73,154.82 122.88,154.74 123.03,154.66 123.17,154.58 123.32,154.51 123.47,154.44 123.62,154.37 123.76,154.31 123.91,154.24 124.06,154.18 124.21,154.12 124.35,154.06 124.50,154.00 124.65,153.94 124.80,153.89 124.94,153.83 125.09,153.78 125.24,153.73 125.39,153.68 125.53,153.63 125.68,153.58 125.83,153.53 125.98,153.48 126.12,153.44 126.27,153.39 126.42,153.34 126.57,153.30 126.71,153.25 126.86,153.21 127.01,153.17 127.16,153.13 127.30,153.08 127.45,153.04 127.60,153.00 127.75,152.96 127.89,152.93 128.04,152.89 128.19,152.85 128.33,152.81 128.48,152.78 128.63,152.74 128.78,152.71 128.92,152.67 129.07,152.64 129.22,152.61 129.37,152.57 129.51,152.54 129.66,152.51 129.81,152.48 129.96,152.45 130.10,152.42 130.25,152.39 130.40,152.36 130.55,152.33 130.69,152.30 130.84,152.27 130.99,152.25 131.14,152.22 131.28,152.19 131.43,152.16 131.58,152.14 131.73,152.11 131.87,152.08 132.02,152.06 132.17,152.03 132.32,152.00 132.46,151.98 132.61,151.95 132.76,151.93 132.91,151.90 133.05,151.88 133.20,151.86 133.35,151.83 133.50,151.81 133.64,151.79 133.79,151.77 133.94,151.75 134.08,151.73 134.23,151.72 134.38,151.70 134.53,151.69 134.67,151.67 134.82,151.66 134.97,151.65 135.12,151.64 135.26,151.63 135.41,151.62 135.56,151.61 135.71,151.60 135.85,151.59 136.00,151.58 136.15,151.57 136.30,151.56 136.44,151.55 136.59,151.55 136.74,151.54 136.89,151.53 137.03,151.53 137.18,151.52 137.33,151.52 137.48,151.51 137.62,151.51 137.77,151.50 137.92,151.50 138.07,151.50 138.21,151.50 138.36,151.50 138.51,151.52 138.66,151.55 138.80,151.61 138.95,151.88" fill="none" stroke="none" marker-start="url(#m1)" marker-mid="url(#m1)" marker-end="url(#m1)"/><polyline points="139.01,152.35 139.06,153.01 139.11,154.09 139.15,155.50 139.20,157.14 139.25,158.90 139.30,160.70 139.35,162.44 139.40,164.01 139.44,165.31 139.49,166.26 139.54,166.75 139.69,167.36 139.83,167.81 139.98,168.14 140.13,168.40 140.28,168.62 140.42,168.85 140.57,169.06 140.72,169.25 140.87,169.43" fill="none" stroke="none" marker-start="url(#n1)" marker-mid="url(#n1)" marker-end="url(#n1)"/><polyline points="141.01,169.59 141.16,169.74 141.31,169.89 141.46,170.03 141.60,170.16 141.75,170.30 141.90,170.43 142.05,170.56 142.19,170.68 142.34,170.79 142.49,170.91 142.64,171.03 142.78,171.15 142.93,171.29 143.08,171.43 143.23,171.59 143.37,171.75 143.52,171.92 143.67,172.09 143.82,172.26 143.96,172.44 144.11,172.62 144.26,172.81 144.41,172.99 144.55,173.17 144.70,173.35 144.85,173.53 145.00,173.71 145.14,173.89 145.29,174.08 145.44,174.27 145.59,174.46 145.88,174.85 146.17,175.24 146.47,175.62 146.76,176.00 147.06,176.36 147.35,176.70 147.65,177.02 147.94,177.31 148.24,177.60 148.53,177.87 148.83,178.13 149.12,178.39 149.42,178.64 149.71,178.88 150.01,179.11 150.30,179.34 150.60,179.57 150.89,179.78 151.19,180.00 151.48,180.21 151.78,180.42 152.07,180.62 152.37,180.81 152.66,181.00 152.96,181.19 153.25,181.37 153.55,181.55 153.84,181.73 154.14,181.90 154.43,182.08 154.73,182.25 155.02,182.42 155.32,182.58 155.61,182.75 155.91,182.91 156.20,183.07 156.50,183.23 156.79,183.39 157.09,183.54 157.38,183.70 157.67,183.85 157.97,184.00 158.26,184.16 158.56,184.31 158.85,184.46 159.15,184.61 159.44,184.76 159.74,184.91 160.03,185.06 160.33,185.21 160.62,185.36 160.92,185.51 161.21,185.65 161.51,185.80 161.80,185.94 162.10,186.09 162.39,186.23 162.69,186.38 162.98,186.52 163.28,186.67 163.57,186.81 163.87,186.96 164.16,187.11 164.46,187.26 164.75,187.41 165.05,187.56 165.34,187.71 165.64,187.87 165.93,188.02 166.23,188.18 166.52,188.33 166.82,188.49 167.11,188.64 167.41,188.80 167.70,188.95 168.00,189.10 168.29,189.26 168.59,189.41 168.88,189.55 169.18,189.70 169.47,189.84 169.76,189.99 170.06,190.13 170.35,190.27 170.65,190.41 170.94,190.55 171.24,190.69 171.53,190.83 171.83,190.97 172.12,191.11 172.42,191.25 172.71,191.38 173.01,191.52 173.30,191.65 173.60,191.79 173.89,191.92 174.19,192.06 174.48,192.19 174.78,192.32 175.07,192.46 175.37,192.59 175.66,192.72 175.96,192.85 176.25,192.98 176.55,193.11 176.84,193.24 177.14,193.37 177.43,193.50 177.73,193.63 178.02,193.76 178.32,193.89 178.61,194.02 178.91,194.15 179.20,194.28 179.50,194.41 179.79,194.54 180.09,194.67 180.38,194.80 180.68,194.93 180.97,195.06 181.26,195.19 181.56,195.32 181.85,195.45 182.15,195.58 182.44,195.71 182.74,195.84 183.03,195.97 183.33,196.10 183.62,196.23 183.92,196.36 184.21,196.50 184.51,196.63 184.80,196.76 185.10,196.89 185.39,197.03 185.69,197.16 185.98,197.30 186.28,197.43 186.57,197.57 186.87,197.70 187.16,197.83 187.46,197.97 187.75,198.08 188.05,198.20 188.34,198.35 188.64,198.53 188.93,198.71 189.23,198.85 189.52,198.89 189.82,199.04 190.11,199.17 190.41,199.43 190.70,199.35 191.00,199.80 191.29,199.78 191.59,199.89 191.88,200.16 192.18,200.39 192.47,200.46 192.77,200.70 193.06,200.73 193.35,201.04 193.65,201.20 193.94,201.15 194.24,201.54 194.53,201.50 194.83,201.64 195.12,201.62 195.42,201.88 195.71,202.22 196.01,202.00 196.30,202.52 196.60,202.62 196.89,202.76 197.19,202.42 197.48,202.99 197.78,203.31 198.07,203.16 198.37,203.50 198.66,203.11 198.96,203.95 199.25,203.80 199.55,204.32 199.84,203.82 200.14,204.60 200.43,204.53 200.73,204.95 201.02,204.66 201.32,204.90 201.61,205.82 201.91,205.15 202.20,205.34 202.50,205.61 202.79,205.56 203.09,206.35 203.38,206.67 203.68,206.11 203.97,205.96 204.27,207.00 204.56,207.14 204.85,207.21 205.15,207.48 205.44,206.99 205.74,207.37 206.03,207.13 206.33,207.27 206.62,208.23 206.92,207.82 207.21,209.00 207.51,208.39 207.80,208.29 208.10,208.96 208.39,209.48 208.69,209.16 208.98,208.69 209.28,209.43 209.57,209.97 209.87,209.41 210.16,209.45 210.46,210.30 210.75,210.11 211.05,209.77 211.34,210.21 211.64,210.21 211.93,210.79 212.23,210.86 212.52,211.45 212.82,211.43 213.11,210.62 213.41,211.62 213.70,211.99 214.00,211.96 214.29,212.37 214.59,211.83 214.88,211.81 215.18,212.82 215.47,212.08 215.77,211.73 216.06,213.36 216.36,212.71 216.65,213.06 216.94,212.71 217.24,212.90 217.53,213.14 217.83,213.68 218.12,214.20 218.42,213.05 218.71,214.72 219.01,213.92 219.30,214.14 219.60,215.18 219.89,214.96 220.19,214.37 220.48,216.27 220.78,215.03 221.07,215.77 221.37,215.90 221.66,216.71 221.96,215.87 222.25,216.82 222.55,216.03 222.84,217.20 223.14,216.32 223.43,216.70 223.73,218.11 224.02,217.38 224.32,217.42 224.61,218.78 224.91,217.86 225.20,217.33 225.50,218.38 225.79,217.41 226.09,218.90 226.38,219.10 226.68,218.19 226.97,218.29 227.27,218.91 227.56,218.95 227.86,218.49 228.15,219.56 228.44,218.09 228.74,219.21 229.03,219.36 229.33,219.56 229.62,220.05 229.92,219.21 230.21,220.48 230.51,220.11 230.80,219.92 231.10,219.57 231.39,219.80 231.69,220.92 231.98,220.16 232.28,220.94 232.57,221.70 232.87,221.79 233.16,222.25 233.46,221.12 233.75,220.69 234.05,222.22 234.34,221.85 234.64,222.52 234.93,221.87 235.23,222.80 235.52,222.66 235.82,222.68 236.11,222.64 236.41,222.68 236.70,222.67 237.00,222.77 237.29,223.42 237.59,222.44 237.88,224.16 238.18,222.92 238.47,223.81 238.77,223.11 239.06,223.08 239.36,224.85 239.65,223.19 239.95,222.55 240.24,223.03 240.53,223.40 240.83,225.33 241.12,223.91 241.42,224.52 241.71,223.09 242.01,224.16 242.30,224.45 242.60,225.36 242.89,223.44 243.19,224.47 243.48,224.25 243.78,223.21 244.07,224.02 244.37,223.83 244.66,222.20 244.96,224.55 245.25,224.51 245.55,223.73 245.84,223.01 246.14,225.31 246.43,224.33 246.73,224.96 247.02,225.30 247.32,223.71 247.61,224.83 247.91,223.96 248.20,224.12 248.50,224.10 248.79,224.18 249.09,225.14 249.38,224.30 249.68,224.07 249.97,223.98 250.27,224.51 250.56,223.45 250.86,223.80 251.15,224.19 251.45,223.75 251.74,224.14 252.03,223.72 252.33,226.03 252.62,225.44 252.92,224.67 253.21,224.22 253.51,226.24 253.80,224.57 254.10,224.20 254.39,224.56 254.69,224.56 254.98,225.57 255.28,224.27 255.57,226.22 255.87,223.48 256.16,224.94 256.46,223.37 256.75,225.99 257.05,223.99 257.34,224.25 257.64,225.17 257.93,225.48 258.23,223.25 258.52,223.97 258.82,222.97 259.11,224.43 259.41,224.20 259.70,223.96 260.00,223.63 260.29,223.91 260.59,223.56 260.88,224.80 261.18,225.76 261.47,222.39 261.77,224.16 262.06,223.86 262.36,224.75 262.65,223.32 262.95,224.11 263.24,223.22 263.54,224.95 263.83,224.35 264.12,224.08 264.42,224.62 264.71,223.99 265.01,222.66 265.30,224.84 265.60,224.52 265.89,224.07 266.19,225.24 266.48,225.48 266.78,223.09 267.07,223.40 267.37,225.82 267.66,225.69 267.96,223.43 268.25,222.96 268.55,223.53 268.84,223.68 269.14,222.52 269.43,224.23 269.73,222.84 270.02,222.91 270.32,225.18 270.61,223.47 270.91,224.13 271.20,224.89 271.50,225.09 271.79,223.85 272.09,224.27 272.38,223.33 272.68,226.15 272.97,224.96 273.27,223.03 273.56,224.26 273.86,225.06 274.15,224.81 274.45,226.32 274.74,225.83 275.04,223.70 275.33,224.22 275.62,222.89 275.92,224.63 276.21,224.53 276.51,227.44 276.80,224.49 277.10,222.01 277.39,223.64 277.69,224.55 277.98,222.99 278.28,223.45 278.57,224.04 278.87,224.88 279.16,224.30 279.46,223.48 279.75,225.45 280.05,223.91 280.34,223.97 280.64,222.95 280.93,223.66 281.23,225.37 281.52,222.70 281.82,224.55 282.11,225.50 282.41,224.21 282.70,224.97 283.00,223.36 283.29,226.29 283.59,226.06 283.88,225.04 284.18,222.65 284.47,223.52 284.77,226.00 285.06,226.93 285.36,225.22 285.65,226.41 285.95,224.16 286.24,224.69 286.54,224.95 286.83,225.50 287.13,223.10 287.42,226.19 287.71,226.70 288.01,223.64 288.30,223.40 288.60,225.57 288.89,224.33 289.19,222.19 289.48,226.23 289.78,225.43 290.07,224.66 290.37,227.99 290.66,225.50 290.96,224.39 291.25,225.51 291.55,224.08 291.84,224.47 292.14,225.98 292.43,224.79 292.73,224.96 293.02,227.74 293.32,226.73 293.61,226.69 293.91,226.36 294.20,226.34 294.50,227.65 294.79,225.75 295.09,228.26 295.38,224.58 295.68,225.54 295.97,224.08 296.27,225.49 296.56,226.67 296.86,227.96 297.15,225.17 297.45,226.10 297.74,225.64 298.04,225.17 298.33,224.60 298.63,226.32 298.92,223.93 299.21,226.46 299.51,226.38 299.80,225.49 300.10,225.05 300.39,224.57 300.69,229.08 300.98,224.70 301.28,228.73 301.57,227.45 301.87,226.16 302.16,225.10 302.46,228.19 302.75,229.19 303.05,225.52 303.34,226.44 303.64,228.37 303.93,227.41 304.23,229.80 304.52,226.22 304.82,227.83 305.11,225.33 305.41,230.12 305.70,226.14 306.00,224.08 306.29,227.08 306.59,227.10 306.88,230.09 307.18,226.90 307.47,227.41 307.77,228.32 308.06,229.80 308.36,227.46 308.65,229.10 308.95,228.38 309.24,227.24 309.54,227.83 309.83,227.80 310.13,226.45 310.42,229.62 310.72,225.84 311.01,229.64 311.30,229.37 311.60,227.86 311.89,226.90 312.19,227.74 312.48,228.82 312.78,229.27 313.07,228.63 313.37,229.72 313.66,227.45 313.96,228.68 314.25,226.01 314.55,229.56 314.84,228.68 315.14,227.87 315.43,230.30 315.73,229.63 316.02,224.35 316.32,228.73 316.61,226.50 316.91,230.40 317.20,232.62 317.50,228.07 317.79,229.02 318.09,228.57 318.38,229.55 318.68,230.05 318.97,231.10 319.27,227.62 319.56,231.64 319.86,227.80 320.15,229.74 320.45,231.16 320.74,230.52 321.04,227.99 321.33,228.41 321.63,228.83 321.92,229.53 322.22,231.48 322.51,227.68 322.80,230.51 323.10,230.79 323.39,230.77 323.69,230.68 323.98,232.41 324.28,230.82 324.57,231.47 324.87,231.05 325.16,233.09 325.46,227.21 325.75,232.38 326.05,229.95 326.34,229.97 326.64,228.91 326.93,227.51 327.23,229.97 327.52,229.53 327.82,231.51 328.11,228.36 328.41,233.16 328.70,231.32 329.00,230.52 329.29,229.82 329.59,229.75 329.88,229.24 330.18,230.26 330.47,231.22 330.77,230.97 331.06,228.98 331.36,230.94 331.65,229.95 331.95,231.76 332.24,234.66 332.54,232.65 332.83,231.13 333.13,228.99 333.42,229.39 333.72,228.98 334.01,233.11 334.31,230.64 334.60,232.10 334.89,230.99 335.19,232.26 335.48,234.54 335.78,231.04 336.07,231.68 336.37,230.94 336.66,233.87 336.96,230.67 337.25,230.53 337.55,230.15 337.84,230.16 338.14,233.45 338.43,237.13 338.73,231.02 339.02,234.44 339.32,233.28 339.61,230.98 339.91,232.46 340.20,232.59 340.50,231.84 340.79,236.47 341.09,229.81 341.38,233.86 341.68,233.83 341.97,232.27 342.27,233.60 342.56,234.93 342.86,233.70 343.15,234.22 343.45,234.75 343.74,229.96 344.04,236.25 344.33,237.72 344.63,235.45 344.92,235.56 345.22,231.27 345.51,233.62 345.81,232.42 346.10,232.86 346.39,235.70 346.69,232.55 346.98,233.81 347.28,230.63 347.57,233.83 347.87,234.32 348.16,232.92 348.46,232.93 348.75,237.71 349.05,232.11 349.34,232.44 349.64,232.91 349.93,236.63 350.23,238.33 350.52,235.12 350.82,233.23 351.11,233.80 351.41,236.59 351.70,232.98 352.00,237.39 352.29,237.36 352.59,234.90 352.88,236.01 353.18,236.24 353.47,237.78 353.77,232.96 354.06,237.16 354.36,234.29 354.65,233.59 354.95,235.26 355.24,234.70 355.54,233.28 355.83,232.16 356.13,233.43 356.42,237.99 356.72,238.99 357.01,236.55 357.31,237.60 357.60,234.40 357.90,235.27 358.19,235.99 358.48,233.43 358.78,233.63 359.07,235.74 359.37,234.98 359.66,233.59 359.96,236.40 360.25,235.19 360.55,237.69 360.84,235.75 361.14,235.21 361.43,236.07 361.73,235.53 362.02,234.60 362.32,235.15 362.61,237.42 362.91,237.25 363.20,238.53 363.50,232.75 363.79,235.32 364.09,235.31 364.38,236.49 364.68,235.30 364.97,235.21 365.27,237.79 365.56,236.64 365.86,234.02 366.15,238.99 366.45,238.35 366.74,235.28 367.04,238.09 367.33,235.02 367.63,238.75 367.92,236.10 368.22,234.97 368.51,235.86 368.81,235.10 369.10,237.05 369.40,237.04 369.69,236.80 369.98,235.64 370.28,229.42 370.57,237.00 370.87,233.02 371.16,237.37 371.46,239.20 371.75,237.49 372.05,236.18 372.34,236.63 372.64,236.76 372.93,235.94 373.23,235.90 373.52,235.24 373.82,239.58 374.11,237.15 374.41,239.17 374.70,236.73 375.00,237.42 375.29,236.95 375.59,238.28 375.88,239.06 376.18,237.88 376.47,236.03 376.77,235.83 377.06,240.91 377.36,236.93 377.65,236.93 377.95,240.61 378.24,239.86 378.54,238.74 378.83,236.82 379.13,242.60 379.42,238.53 379.72,238.89 380.01,237.41 380.31,234.83 380.60,235.02 380.90,238.71 381.19,238.71 381.49,237.41 381.78,235.47 382.07,234.92 382.37,237.31 382.66,234.94 382.96,239.97 383.25,240.54 383.55,244.14 383.84,240.02 384.14,236.91 384.43,236.34 384.73,230.85 385.02,236.99 385.32,237.91 385.61,240.39 385.91,239.66 386.20,239.64 386.50,238.86 386.79,239.85 387.09,241.58 387.38,236.18 387.68,237.52 387.97,235.53 388.27,242.08 388.56,241.41 388.86,240.26 389.15,236.04 389.45,239.06 389.74,238.19 390.04,238.91 390.33,238.35 390.63,239.93 390.92,237.95 391.22,240.72 391.51,239.40 391.81,238.25 392.10,238.68 392.40,237.98 392.69,240.77 392.99,238.40 393.28,239.68 393.57,238.19 393.87,235.79 394.16,241.12 394.46,236.79 394.75,240.68 395.05,240.13 395.34,235.53 395.64,237.14 395.93,238.12 396.23,237.46 396.52,236.67 396.82,241.01 397.11,238.84 397.41,240.27 397.70,238.46 398.00,240.14 398.29,237.78 398.59,239.44 398.88,240.84 399.18,239.66 399.47,238.54 399.77,237.14 400.06,240.01 400.36,240.44 400.65,239.09 400.95,237.95 401.24,240.97 401.54,245.42 401.83,239.09 402.13,240.58 402.42,240.70 402.72,233.97 403.01,240.16 403.31,238.28 403.60,243.11 403.90,239.37 404.19,238.19 404.49,239.50 404.78,240.41 405.08,238.76 405.37,239.95 405.66,236.96 405.96,239.60 406.25,241.95 406.55,244.75 406.84,241.84 407.14,240.85 407.43,243.00 407.73,242.65 408.02,244.18 408.32,242.85 408.61,240.06 408.91,240.97 409.20,240.80 409.50,241.12 409.79,240.90 410.09,238.61 410.38,235.52 410.68,238.91 410.97,235.73 411.27,240.70 411.56,240.58 411.86,236.62 412.15,242.24 412.45,242.69 412.74,240.88 413.04,244.65 413.33,245.16 413.63,237.85 413.92,243.22 414.22,241.82 414.51,241.79 414.81,243.05 415.10,239.11 415.40,239.43 415.69,238.89 415.99,239.08 416.28,240.68 416.58,237.44 416.87,238.43 417.16,242.37 417.46,240.82 417.75,241.94 418.05,236.46 418.34,239.16 418.64,239.73 418.93,241.17 419.23,239.69 419.52,243.41 419.82,241.01 420.11,241.22 420.41,241.23 420.70,242.94 421.00,240.08 421.29,244.00 421.59,242.40 421.88,241.67 422.18,241.41 422.47,242.60 422.77,243.84 423.06,243.69 423.36,242.31 423.65,243.56 423.95,241.71 424.24,244.53 424.54,241.39 424.83,236.33 425.13,244.81 425.42,241.78 425.72,238.62 426.01,241.05 426.31,239.36 426.60,246.82 426.90,242.84 427.19,237.70 427.49,243.00 427.78,240.65 428.08,246.47 428.37,239.05 428.67,236.07 428.96,241.89 429.25,240.87 429.55,240.71 429.84,236.38 430.14,242.87 430.43,246.04 430.73,237.01 431.02,244.81 431.32,240.43 431.61,247.84 431.91,243.01 432.20,241.44 432.50,244.75 432.79,243.29 433.09,240.46 433.38,243.80 433.68,240.71 433.97,237.46 434.27,247.24 434.56,241.17 434.86,240.52 435.15,242.97 435.45,238.12 435.74,238.66 436.04,240.87 436.33,240.84 436.63,242.38 436.92,245.11 437.22,241.01 437.51,243.52 437.81,243.82 438.10,239.48 438.40,242.90 438.69,239.88 438.99,245.10 439.28,243.54 439.58,242.42 439.87,238.91 440.17,242.72 440.46,240.44 440.75,244.30 441.05,242.17 441.34,240.37 441.64,244.94 441.93,244.43 442.23,241.00 442.52,245.63 442.82,241.82 443.11,241.81 443.41,242.97 443.70,240.68 444.00,241.52 444.29,242.28 444.59,246.77 444.88,246.71 445.18,242.08 445.47,247.06 445.77,242.70 446.06,243.84 446.36,245.20 446.65,243.65 446.95,249.33 447.24,243.57 447.54,239.75 447.83,246.45 448.13,241.89 448.42,242.20 448.72,235.03 449.01,245.74 449.31,245.28 449.60,245.25 449.90,245.76 450.19,247.70 450.49,243.06 450.78,245.73 451.08,241.22 451.37,242.30 451.67,246.13 451.96,244.36 452.26,239.72 452.55,244.33 452.84,242.88 453.14,241.18 453.43,244.61 453.73,242.36 454.02,239.21 454.32,240.48 454.61,248.35 454.91,239.43 455.20,244.19 455.50,245.28 455.79,245.38 456.09,240.31 456.38,242.81 456.68,244.10 456.97,245.94 457.27,242.00 457.56,240.60 457.86,246.58 458.15,246.89 458.45,244.89 458.74,242.22 459.04,245.05 459.33,244.26 459.63,246.30 459.92,240.56 460.22,244.36 460.51,243.63 460.81,241.02 461.10,244.72 461.40,244.25 461.69,243.04 461.99,245.31 462.28,240.28 462.58,244.11 462.87,245.49 463.17,245.11 463.46,247.35 463.76,241.01 464.05,240.18" fill="none" stroke="none" marker-start="url(#m1)" marker-mid="url(#m1)" marker-end="url(#m1)"/><path d="M115.5 161.4L116.1 161.3L116.7 161.0L117.3 160.6L117.9 160.1L118.5 159.3L119.0 158.4L119.6 157.6L120.2 157.0L120.8 156.3L121.4 155.7" fill="none" stroke="#87C3DE" stroke-width="22.3" stroke-linejoin="round" stroke-linecap="round"/><path d="M122.0 155.2L122.6 154.9L123.2 154.6L123.8 154.3L124.4 154.1L124.9 153.8L125.5 153.6L126.1 153.4L126.7 153.3L127.3 153.1L127.9 152.9L128.5 152.8L129.1 152.6L129.7 152.5L130.3 152.4L130.8 152.3" fill="none" stroke="#87C3DE" stroke-width="3" stroke-linejoin="round" stroke-linecap="butt"/><path d="M146.8 176.0L147.9 177.3L149.1 178.4L150.3 179.3L151.5 180.2L152.7 181.0L153.8 181.7L155.0 182.4L156.2 183.1L157.4 183.7L158.6 184.3L159.7 184.9L160.9 185.5L162.1 186.1L163.3 186.7L164.5 187.3L165.6 187.9L166.8 188.5L168.0 189.1L169.2 189.7L170.4 190.3L171.5 190.8L172.7 191.4L173.9 191.9L175.1 192.5L176.3 193.0L177.4 193.5L178.6 194.0L179.8 194.5L181.0 195.1L182.1 195.6L183.3 196.1L184.5 196.6L185.7 197.2L186.9 197.7L188.0 198.3L189.2 198.8L190.4 199.4L191.6 200.0L192.8 200.6L193.9 201.2L195.1 201.8L196.3 202.4L197.5 203.0L198.7 203.6L199.8 204.3L201.0 204.9L202.2 205.5L203.4 206.2L204.6 206.8L205.7 207.4L206.9 208.1" fill="none" stroke="#87C3DE" stroke-width="22.3" stroke-linejoin="round" stroke-linecap="round"/><path d="M167.7 188.6L169.2 189.3L172.1 190.6L175.1 192.0L178.0 193.4L181.0 194.8L183.9 196.2L186.9 197.6L189.8 199.1L192.8 200.6L195.7 202.1L198.7 203.7L201.6 205.2L204.6 206.8L207.5 208.4L210.5 209.9L213.4 211.4L216.4 213.0L219.3 214.7L222.3 216.3L225.2 217.8L228.2 219.2L231.1 220.5L234.0 221.5L237.0 222.6L239.9 223.5L242.9 224.0L245.8 224.1L248.8 224.2L251.7 224.2L254.7 224.3L257.6 224.3L260.6 224.3L263.5 224.3L266.5 224.2L269.4 224.2L272.4 224.2L275.3 224.3L278.3 224.5L281.2 224.6L284.2 224.8L287.1 225.0L290.1 225.3L293.0 225.6L296.0 225.9L298.9 226.3L301.9 226.7L304.8 227.1L307.8 227.5L310.7 227.9L313.7 228.3L316.6 228.7L319.6 229.2L322.5 229.7L325.5 230.3L328.4 230.8L331.4 231.4L334.3 231.9L337.3 232.5L340.2 233.0L343.2 233.5L346.1 233.9L349.0 234.3L352.0 234.7L354.9 235.1L357.9 235.4L360.8 235.8L363.8 236.1L366.7 236.4L369.7 236.7L372.6 237.0L375.6 237.3L378.5 237.6L381.5 237.9L384.4 238.2L387.4 238.5L390.3 238.8L393.3 239.0L396.2 239.3L399.2 239.6L402.1 239.8L405.1 240.1L408.0 240.3L411.0 240.5L413.9 240.7L416.9 241.0L419.8 241.2L422.8 241.3L425.7 241.5L428.7 241.7L431.6 241.9L434.6 242.1L437.5 242.2L440.5 242.4L443.4 242.6L446.4 242.9L449.3 243.1L452.3 243.3L455.2 243.6L458.2 243.8L461.1 244.1L464.1 244.4" fill="none" stroke="#23698A" stroke-width="4.4" stroke-linejoin="round"/></g>
<text transform="translate(444.20,177.70)" font-size="29.8" text-anchor="end" fill="#23698A">Cu-24 s</text>
<text transform="translate(55.20,151.00) translate(-0.6,0) scale(1.17,1)" font-size="29.5" text-anchor="start" fill="#000" stroke="#fff" stroke-width="0.4" textLength="30.26" lengthAdjust="spacing">10</text>
<text transform="translate(90.00,141.80) translate(-0.6,0) scale(1.17,1)" font-size="20.6" text-anchor="start" fill="#000" stroke="#fff" stroke-width="0.4" textLength="10.00" lengthAdjust="spacing">8</text>
<text transform="translate(55.20,210.52) translate(-0.6,0) scale(1.17,1)" font-size="29.5" text-anchor="start" fill="#000" stroke="#fff" stroke-width="0.4" textLength="30.26" lengthAdjust="spacing">10</text>
<text transform="translate(90.00,201.32) translate(-0.6,0) scale(1.17,1)" font-size="20.6" text-anchor="start" fill="#000" stroke="#fff" stroke-width="0.4" textLength="10.00" lengthAdjust="spacing">4</text>
<clipPath id="c2"><rect x="110.20" y="253.20" width="353.85" height="117.80"/></clipPath>
<marker id="m2" markerUnits="userSpaceOnUse" markerWidth="24" markerHeight="24" refX="12" refY="12" overflow="visible"><circle cx="12" cy="12" r="10.65" fill="#fff" stroke="#DDB5E0" stroke-width="1.0"/></marker>
<marker id="n2" markerUnits="userSpaceOnUse" markerWidth="24" markerHeight="24" refX="12" refY="12" overflow="visible"><circle cx="12" cy="12" r="10.65" fill="#fff" stroke="#DDB5E0" stroke-width="0.75"/></marker>
<g clip-path="url(#c2)"><polyline points="112.26,258.80 112.41,261.49 112.56,264.00 112.71,266.26 112.85,268.23 113.00,269.84 113.15,271.05 113.30,271.80 113.44,272.26 113.59,272.64 113.74,272.94 113.89,273.16 114.03,273.30 114.18,273.39 114.33,273.48 114.48,273.56 114.62,273.63 114.77,273.69 114.92,273.73 115.07,273.77 115.21,273.79 115.36,273.80 115.51,273.80 115.66,273.78 115.80,273.76 115.95,273.73 116.10,273.68 116.24,273.64 116.39,273.58 116.54,273.52 116.69,273.46 116.83,273.39 116.98,273.32 117.13,273.24 117.28,273.17 117.42,273.08 117.57,272.97 117.72,272.84 117.87,272.70 118.01,272.53 118.16,272.36 118.31,272.17 118.46,271.98 118.60,271.79 118.75,271.59 118.90,271.39 119.05,271.20 119.19,271.01 119.34,270.83 119.49,270.66 119.64,270.51 119.78,270.36 119.93,270.21 120.08,270.06 120.23,269.91 120.37,269.76 120.52,269.62 120.67,269.47 120.82,269.33 120.96,269.19 121.11,269.06 121.26,268.94 121.41,268.82 121.55,268.71 121.70,268.61 121.85,268.53 122.00,268.45 122.14,268.38 122.29,268.31 122.44,268.25 122.58,268.19 122.73,268.13 122.88,268.07 123.03,268.01 123.17,267.96 123.32,267.90 123.47,267.85 123.62,267.80 123.76,267.75 123.91,267.71 124.06,267.66 124.21,267.62 124.35,267.58 124.50,267.54 124.65,267.50 124.80,267.46 124.94,267.43 125.09,267.39 125.24,267.36 125.39,267.33 125.53,267.30 125.68,267.27 125.83,267.25 125.98,267.22 126.12,267.19 126.27,267.17 126.42,267.15 126.57,267.13 126.71,267.10 126.86,267.08 127.01,267.06 127.16,267.04 127.30,267.02 127.45,267.00 127.60,266.98 127.75,266.97 127.89,266.95 128.04,266.93 128.19,266.91 128.33,266.90 128.48,266.88 128.63,266.87 128.78,266.85 128.92,266.84 129.07,266.82 129.22,266.81 129.37,266.79 129.51,266.78 129.66,266.77 129.81,266.76 129.96,266.74 130.10,266.73 130.25,266.72 130.40,266.71 130.55,266.70 130.69,266.69 130.84,266.68 130.99,266.66 131.14,266.65 131.28,266.64 131.43,266.63 131.58,266.63 131.73,266.62 131.87,266.61 132.02,266.60 132.17,266.59 132.32,266.58 132.46,266.57 132.61,266.57 132.76,266.56 132.91,266.55 133.05,266.54 133.20,266.54 133.35,266.53 133.50,266.52 133.64,266.51 133.79,266.51 133.94,266.50 134.08,266.49 134.23,266.49 134.38,266.48 134.53,266.47 134.67,266.46 134.82,266.46 134.97,266.45 135.12,266.44 135.26,266.43 135.41,266.43 135.56,266.42 135.71,266.41 135.85,266.40 136.00,266.39 136.15,266.38 136.30,266.37 136.44,266.36 136.59,266.35 136.74,266.35 136.89,266.34 137.03,266.33 137.18,266.32 137.33,266.32 137.48,266.31 137.62,266.31 137.77,266.31 137.92,266.30 138.07,266.30 138.21,266.30 138.36,266.30 138.51,266.32 138.66,266.35 138.80,266.41 138.95,266.68" fill="none" stroke="none" marker-start="url(#m2)" marker-mid="url(#m2)" marker-end="url(#m2)"/><polyline points="139.01,267.15 139.06,267.81 139.11,268.89 139.15,270.30 139.20,271.94 139.25,273.71 139.30,275.51 139.35,277.24 139.40,278.81 139.44,280.12 139.49,281.06 139.54,281.55 139.69,282.15 139.83,282.59 139.98,282.92 140.13,283.18 140.28,283.39 140.42,283.61 140.57,283.81 140.72,284.00 140.87,284.17" fill="none" stroke="none" marker-start="url(#n2)" marker-mid="url(#n2)" marker-end="url(#n2)"/><polyline points="141.01,284.32 141.16,284.47 141.31,284.60 141.46,284.74 141.60,284.86 141.75,285.00 141.90,285.12 142.05,285.24 142.19,285.35 142.34,285.46 142.49,285.56 142.64,285.68 142.78,285.79 142.93,285.92 143.08,286.06 143.23,286.21 143.37,286.36 143.52,286.52 143.67,286.68 143.82,286.85 143.96,287.03 144.11,287.20 144.26,287.37 144.41,287.55 144.55,287.72 144.70,287.89 144.85,288.06 145.00,288.24 145.14,288.42 145.29,288.60 145.44,288.78 145.59,288.96 145.88,289.34 146.17,289.71 146.47,290.08 146.76,290.44 147.06,290.78 147.35,291.11 147.65,291.41 147.94,291.69 148.24,291.96 148.53,292.22 148.83,292.47 149.12,292.71 149.42,292.94 149.71,293.17 150.01,293.39 150.30,293.60 150.60,293.81 150.89,294.01 151.19,294.21 151.48,294.41 151.78,294.60 152.07,294.79 152.37,294.97 152.66,295.14 152.96,295.31 153.25,295.48 153.55,295.65 153.84,295.81 154.14,295.97 154.43,296.13 154.73,296.28 155.02,296.44 155.32,296.59 155.61,296.74 155.91,296.89 156.20,297.03 156.50,297.17 156.79,297.32 157.09,297.46 157.38,297.60 157.67,297.74 157.97,297.87 158.26,298.01 158.56,298.15 158.85,298.28 159.15,298.42 159.44,298.56 159.74,298.69 160.03,298.83 160.33,298.96 160.62,299.09 160.92,299.23 161.21,299.36 161.51,299.49 161.80,299.62 162.10,299.75 162.39,299.88 162.69,300.01 162.98,300.14 163.28,300.27 163.57,300.40 163.87,300.53 164.16,300.66 164.46,300.80 164.75,300.93 165.05,301.06 165.34,301.20 165.64,301.33 165.93,301.47 166.23,301.60 166.52,301.74 166.82,301.88 167.11,302.01 167.41,302.15 167.70,302.29 168.00,302.43 168.29,302.57 168.59,302.71 168.88,302.86 169.18,303.00 169.47,303.15 169.76,303.29 170.06,303.44 170.35,303.59 170.65,303.74 170.94,303.89 171.24,304.04 171.53,304.19 171.83,304.34 172.12,304.49 172.42,304.64 172.71,304.79 173.01,304.95 173.30,305.10 173.60,305.25 173.89,305.41 174.19,305.56 174.48,305.72 174.78,305.87 175.07,306.03 175.37,306.19 175.66,306.35 175.96,306.50 176.25,306.66 176.55,306.82 176.84,306.98 177.14,307.14 177.43,307.30 177.73,307.46 178.02,307.62 178.32,307.78 178.61,307.94 178.91,308.10 179.20,308.26 179.50,308.42 179.79,308.59 180.09,308.75 180.38,308.91 180.68,309.08 180.97,309.24 181.26,309.40 181.56,309.57 181.85,309.73 182.15,309.89 182.44,310.06 182.74,310.22 183.03,310.39 183.33,310.55 183.62,310.72 183.92,310.88 184.21,311.05 184.51,311.21 184.80,311.38 185.10,311.54 185.39,311.71 185.69,311.88 185.98,312.04 186.28,312.21 186.57,312.37 186.87,312.54 187.16,312.71 187.46,312.87 187.75,313.04 188.05,313.20 188.34,313.37 188.64,313.54 188.93,313.70 189.23,313.87 189.52,314.03 189.82,314.20 190.11,314.37 190.41,314.53 190.70,314.70 191.00,314.87 191.29,315.03 191.59,315.20 191.88,315.37 192.18,315.54 192.47,315.70 192.77,315.87 193.06,316.04 193.35,316.21 193.65,316.38 193.94,316.55 194.24,316.72 194.53,316.89 194.83,317.06 195.12,317.23 195.42,317.40 195.71,317.57 196.01,317.74 196.30,317.91 196.60,318.08 196.89,318.25 197.19,318.42 197.48,318.60 197.78,318.77 198.07,318.94 198.37,319.11 198.66,319.28 198.96,319.46 199.25,319.63 199.55,319.80 199.84,319.97 200.14,320.15 200.43,320.32 200.73,320.49 201.02,320.67 201.32,320.84 201.61,321.01 201.91,321.19 202.20,321.36 202.50,321.54 202.79,321.71 203.09,321.88 203.38,322.06 203.68,322.23 203.97,322.41 204.27,322.58 204.56,322.75 204.85,322.93 205.15,323.10 205.44,323.28 205.74,323.45 206.03,323.63 206.33,323.80 206.62,323.98 206.92,324.15 207.21,324.33 207.51,324.50 207.80,324.68 208.10,324.85 208.39,325.03 208.69,325.20 208.98,325.38 209.28,325.56 209.57,325.74 209.87,325.92 210.16,326.11 210.46,326.29 210.75,326.48 211.05,326.67 211.34,326.86 211.64,327.05 211.93,327.24 212.23,327.43 212.52,327.61 212.82,327.80 213.11,327.99 213.41,328.17 213.70,328.35 214.00,328.52 214.29,328.70 214.59,328.87 214.88,329.04 215.18,329.20 215.47,329.36 215.77,329.51 216.06,329.66 216.36,329.80 216.65,329.94 216.94,330.10 217.24,330.25 217.53,330.41 217.83,330.57 218.12,330.73 218.42,330.88 218.71,331.02 219.01,331.15 219.30,331.28 219.60,331.38 219.89,331.47 220.19,331.54 220.48,331.58 220.78,331.60 221.07,331.59 221.37,331.55 221.66,331.49 221.96,331.41 222.25,331.32 222.55,331.21 222.84,331.09 223.14,330.96 223.43,330.83 223.73,330.70 224.02,330.58 224.32,330.46 224.61,330.36 224.91,330.27 225.20,330.20 225.50,330.14 225.79,330.08 226.09,330.02 226.38,329.96 226.68,329.90 226.97,329.84 227.27,329.79 227.56,329.73 227.86,329.67 228.15,329.62 228.44,329.56 228.74,329.51 229.03,329.46 229.33,329.41 229.62,329.36 229.92,329.31 230.21,329.27 230.51,329.22 230.80,329.18 231.10,329.14 231.39,329.11 231.69,329.07 231.98,329.04 232.28,329.01 232.57,328.99 232.87,328.97 233.16,328.95 233.46,328.93 233.75,328.92 234.05,328.91 234.34,328.90 234.64,328.90 234.93,328.90 235.23,328.90 235.52,328.91 235.82,328.92 236.11,328.92 236.41,328.93 236.70,328.95 237.00,328.96 237.29,328.98 237.59,328.99 237.88,329.01 238.18,329.03 238.47,329.05 238.77,329.07 239.06,329.10 239.36,329.12 239.65,329.15 239.95,329.17 240.24,329.20 240.53,329.23 240.83,329.26 241.12,329.29 241.42,329.32 241.71,329.35 242.01,329.38 242.30,329.41 242.60,329.44 242.89,329.48 243.19,329.50 243.48,329.54 243.78,329.57 244.07,329.60 244.37,329.64 244.66,329.67 244.96,329.70 245.25,329.75 245.55,329.79 245.84,329.79 246.14,329.84 246.43,329.88 246.73,329.92 247.02,329.96 247.32,330.00 247.61,330.07 247.91,330.11 248.20,330.16 248.50,330.23 248.79,330.28 249.09,330.33 249.38,330.38 249.68,330.46 249.97,330.50 250.27,330.55 250.56,330.59 250.86,330.66 251.15,330.70 251.45,330.77 251.74,330.82 252.03,330.82 252.33,330.91 252.62,330.96 252.92,330.99 253.21,331.00 253.51,331.08 253.80,331.06 254.10,331.07 254.39,331.09 254.69,331.14 254.98,331.18 255.28,331.20 255.57,331.19 255.87,331.17 256.16,331.20 256.46,331.20 256.75,331.24 257.05,331.20 257.34,331.27 257.64,331.31 257.93,331.29 258.23,331.32 258.52,331.28 258.82,331.27 259.11,331.31 259.41,331.39 259.70,331.40 260.00,331.35 260.29,331.43 260.59,331.37 260.88,331.46 261.18,331.42 261.47,331.39 261.77,331.45 262.06,331.39 262.36,331.38 262.65,331.36 262.95,331.46 263.24,331.45 263.54,331.46 263.83,331.45 264.12,331.56 264.42,331.46 264.71,331.45 265.01,331.58 265.30,331.60 265.60,331.54 265.89,331.42 266.19,331.50 266.48,331.59 266.78,331.56 267.07,331.68 267.37,331.49 267.66,331.64 267.96,331.56 268.25,331.72 268.55,331.63 268.84,331.72 269.14,331.61 269.43,331.56 269.73,331.60 270.02,331.66 270.32,331.64 270.61,331.84 270.91,331.87 271.20,331.80 271.50,331.71 271.79,331.81 272.09,331.78 272.38,331.99 272.68,331.91 272.97,331.95 273.27,331.89 273.56,331.75 273.86,331.90 274.15,331.89 274.45,332.06 274.74,332.06 275.04,331.99 275.33,332.06 275.62,332.30 275.92,332.05 276.21,332.08 276.51,332.19 276.80,332.16 277.10,332.22 277.39,332.36 277.69,332.53 277.98,332.14 278.28,332.38 278.57,332.42 278.87,332.44 279.16,332.46 279.46,332.47 279.75,332.67 280.05,332.51 280.34,332.59 280.64,332.64 280.93,332.68 281.23,332.68 281.52,332.87 281.82,332.76 282.11,332.82 282.41,332.83 282.70,332.72 283.00,332.78 283.29,332.78 283.59,333.00 283.88,332.90 284.18,332.88 284.47,333.12 284.77,333.21 285.06,332.88 285.36,333.47 285.65,333.24 285.95,333.26 286.24,333.50 286.54,333.37 286.83,333.30 287.13,333.82 287.42,333.30 287.71,333.51 288.01,333.72 288.30,333.42 288.60,333.64 288.89,333.77 289.19,334.19 289.48,333.62 289.78,333.82 290.07,334.00 290.37,333.94 290.66,333.73 290.96,334.09 291.25,334.08 291.55,334.20 291.84,334.38 292.14,334.41 292.43,334.33 292.73,334.36 293.02,334.11 293.32,334.36 293.61,334.49 293.91,334.40 294.20,334.56 294.50,334.41 294.79,334.98 295.09,335.17 295.38,334.65 295.68,334.88 295.97,334.78 296.27,335.18 296.56,335.04 296.86,335.01 297.15,334.99 297.45,335.12 297.74,334.90 298.04,335.36 298.33,335.07 298.63,335.43 298.92,335.38 299.21,335.68 299.51,335.45 299.80,335.77 300.10,335.31 300.39,335.77 300.69,335.60 300.98,335.76 301.28,335.78 301.57,336.07 301.87,335.32 302.16,336.01 302.46,335.56 302.75,336.36 303.05,335.52 303.34,335.84 303.64,335.70 303.93,336.71 304.23,335.91 304.52,336.37 304.82,336.23 305.11,335.91 305.41,336.39 305.70,336.75 306.00,336.54 306.29,336.94 306.59,336.59 306.88,336.75 307.18,336.68 307.47,336.96 307.77,337.51 308.06,337.07 308.36,337.07 308.65,336.86 308.95,336.86 309.24,337.64 309.54,336.84 309.83,336.95 310.13,337.28 310.42,337.22 310.72,338.08 311.01,336.64 311.30,337.64 311.60,337.81 311.89,337.21 312.19,337.43 312.48,337.86 312.78,338.34 313.07,337.47 313.37,337.27 313.66,338.25 313.96,338.51 314.25,337.87 314.55,337.21 314.84,338.64 315.14,338.06 315.43,338.62 315.73,338.22 316.02,338.14 316.32,338.16 316.61,338.97 316.91,339.01 317.20,337.63 317.50,338.16 317.79,339.31 318.09,338.49 318.38,338.13 318.68,338.74 318.97,338.75 319.27,338.80 319.56,338.69 319.86,338.81 320.15,338.80 320.45,339.19 320.74,338.75 321.04,339.02 321.33,339.14 321.63,339.83 321.92,339.47 322.22,339.31 322.51,339.65 322.80,339.64 323.10,340.01 323.39,339.80 323.69,340.44 323.98,340.29 324.28,339.70 324.57,339.58 324.87,340.24 325.16,340.12 325.46,339.88 325.75,339.27 326.05,339.15 326.34,340.25 326.64,340.51 326.93,340.58 327.23,339.60 327.52,340.81 327.82,340.08 328.11,340.59 328.41,340.66 328.70,340.09 329.00,340.25 329.29,339.54 329.59,340.18 329.88,339.77 330.18,340.98 330.47,340.84 330.77,341.34 331.06,341.10 331.36,340.62 331.65,341.20 331.95,340.85 332.24,341.44 332.54,341.33 332.83,340.67 333.13,341.26 333.42,341.34 333.72,341.19 334.01,341.91 334.31,342.43 334.60,341.30 334.89,341.36 335.19,340.31 335.48,341.58 335.78,341.45 336.07,340.49 336.37,341.97 336.66,342.20 336.96,341.46 337.25,341.72 337.55,341.41 337.84,342.50 338.14,341.16 338.43,341.94 338.73,343.37 339.02,342.25 339.32,342.55 339.61,342.22 339.91,341.62 340.20,342.38 340.50,342.70 340.79,341.84 341.09,342.75 341.38,343.37 341.68,343.31 341.97,341.64 342.27,342.07 342.56,341.69 342.86,343.49 343.15,343.23 343.45,343.34 343.74,342.32 344.04,342.17 344.33,343.04 344.63,343.10 344.92,342.49 345.22,343.21 345.51,343.59 345.81,343.35 346.10,342.50 346.39,341.79 346.69,343.12 346.98,343.45 347.28,343.19 347.57,343.10 347.87,342.95 348.16,344.00 348.46,343.48 348.75,343.64 349.05,342.88 349.34,343.17 349.64,343.78 349.93,342.95 350.23,342.79 350.52,343.52 350.82,344.70 351.11,343.97 351.41,344.97 351.70,343.80 352.00,343.69 352.29,342.90 352.59,343.55 352.88,345.14 353.18,344.32 353.47,344.67 353.77,344.68 354.06,344.15 354.36,344.03 354.65,344.32 354.95,344.80 355.24,344.66 355.54,344.72 355.83,344.48 356.13,343.76 356.42,344.20 356.72,343.67 357.01,345.31 357.31,342.77 357.60,344.36 357.90,346.57 358.19,344.31 358.48,343.67 358.78,344.65 359.07,345.79 359.37,344.58 359.66,345.28 359.96,344.87 360.25,344.49 360.55,347.58 360.84,344.93 361.14,344.43 361.43,344.50 361.73,345.29 362.02,345.35 362.32,345.70 362.61,345.17 362.91,343.79 363.20,345.58 363.50,344.85 363.79,344.90 364.09,343.83 364.38,344.69 364.68,344.57 364.97,345.24 365.27,343.95 365.56,345.38 365.86,345.47 366.15,344.33 366.45,344.82 366.74,344.63 367.04,346.33 367.33,343.08 367.63,345.19 367.92,343.95 368.22,345.16 368.51,346.43 368.81,345.02 369.10,345.80 369.40,344.86 369.69,347.63 369.98,346.65 370.28,346.89 370.57,344.47 370.87,344.72 371.16,346.94 371.46,345.68 371.75,345.65 372.05,346.28 372.34,344.68 372.64,346.78 372.93,346.04 373.23,346.54 373.52,345.37 373.82,346.63 374.11,345.39 374.41,347.16 374.70,347.37 375.00,347.17 375.29,346.78 375.59,346.94 375.88,343.38 376.18,347.22 376.47,346.05 376.77,346.47 377.06,346.09 377.36,344.90 377.65,345.86 377.95,347.21 378.24,348.08 378.54,345.84 378.83,345.55 379.13,348.21 379.42,345.63 379.72,348.98 380.01,346.73 380.31,345.70 380.60,347.85 380.90,348.69 381.19,345.14 381.49,348.61 381.78,346.51 382.07,348.59 382.37,346.45 382.66,345.07 382.96,347.54 383.25,348.06 383.55,349.48 383.84,349.07 384.14,347.88 384.43,346.80 384.73,346.48 385.02,346.78 385.32,346.16 385.61,346.85 385.91,344.12 386.20,347.46 386.50,347.23 386.79,350.45 387.09,348.25 387.38,346.75 387.68,348.07 387.97,345.87 388.27,346.67 388.56,345.10 388.86,349.28 389.15,348.25 389.45,346.03 389.74,347.47 390.04,348.79 390.33,348.24 390.63,348.12 390.92,346.54 391.22,346.85 391.51,347.83 391.81,348.93 392.10,346.67 392.40,346.30 392.69,349.31 392.99,346.60 393.28,349.28 393.57,348.20 393.87,349.08 394.16,350.27 394.46,348.88 394.75,349.03 395.05,346.76 395.34,347.09 395.64,348.93 395.93,350.18 396.23,350.02 396.52,351.32 396.82,348.59 397.11,348.46 397.41,349.61 397.70,348.26 398.00,348.17 398.29,346.81 398.59,349.70 398.88,346.81 399.18,349.08 399.47,346.36 399.77,349.97 400.06,346.96 400.36,349.67 400.65,346.19 400.95,347.87 401.24,350.24 401.54,347.38 401.83,348.68 402.13,347.91 402.42,345.24 402.72,349.11 403.01,349.32 403.31,347.06 403.60,349.59 403.90,347.57 404.19,347.28 404.49,348.82 404.78,347.81 405.08,352.33 405.37,346.53 405.66,350.04 405.96,350.45 406.25,345.93 406.55,346.33 406.84,349.88 407.14,348.30 407.43,349.66 407.73,350.87 408.02,348.54 408.32,347.48 408.61,344.88 408.91,349.52 409.20,347.76 409.50,349.75 409.79,349.65 410.09,347.10 410.38,352.09 410.68,351.10 410.97,350.75 411.27,347.50 411.56,348.78 411.86,348.58 412.15,348.82 412.45,347.68 412.74,350.26 413.04,349.95 413.33,350.20 413.63,348.79 413.92,351.80 414.22,349.99 414.51,345.14 414.81,348.66 415.10,349.67 415.40,351.42 415.69,349.31 415.99,349.42 416.28,348.75 416.58,351.03 416.87,349.16 417.16,348.92 417.46,348.70 417.75,350.97 418.05,349.11 418.34,347.16 418.64,351.17 418.93,348.89 419.23,350.77 419.52,350.83 419.82,352.32 420.11,352.07 420.41,349.23 420.70,349.98 421.00,348.01 421.29,353.33 421.59,351.15 421.88,352.89 422.18,349.84 422.47,346.74 422.77,353.25 423.06,350.67 423.36,350.77 423.65,350.65 423.95,351.76 424.24,351.59 424.54,347.70 424.83,352.67 425.13,349.71 425.42,349.85 425.72,353.97 426.01,352.49 426.31,350.17 426.60,347.34 426.90,351.16 427.19,351.90 427.49,350.76 427.78,348.57 428.08,349.46 428.37,348.60 428.67,351.44 428.96,352.63 429.25,353.06 429.55,349.69 429.84,351.59 430.14,352.24 430.43,350.20 430.73,350.93 431.02,355.41 431.32,351.68 431.61,353.05 431.91,350.48 432.20,351.45 432.50,347.99 432.79,351.37 433.09,353.83 433.38,355.68 433.68,353.91 433.97,352.92 434.27,351.67 434.56,350.38 434.86,351.30 435.15,352.90 435.45,350.08 435.74,353.62 436.04,349.72 436.33,348.11 436.63,349.71 436.92,348.39 437.22,349.02 437.51,354.24 437.81,351.50 438.10,352.41 438.40,354.41 438.69,354.66 438.99,350.98 439.28,354.88 439.58,352.92 439.87,352.14 440.17,353.11 440.46,349.15 440.75,350.54 441.05,352.02 441.34,353.60 441.64,351.52 441.93,352.08 442.23,354.48 442.52,355.48 442.82,354.12 443.11,355.25 443.41,351.62 443.70,351.87 444.00,353.27 444.29,351.94 444.59,351.52 444.88,356.33 445.18,352.25 445.47,350.58 445.77,353.86 446.06,356.91 446.36,353.02 446.65,355.64 446.95,351.91 447.24,351.82 447.54,351.40 447.83,352.67 448.13,357.22 448.42,350.43 448.72,356.86 449.01,350.82 449.31,352.63 449.60,355.14 449.90,354.70 450.19,353.93 450.49,349.48 450.78,354.20 451.08,351.00 451.37,359.45 451.67,352.96 451.96,353.94 452.26,350.82 452.55,352.43 452.84,350.54 453.14,355.98 453.43,353.05 453.73,355.06 454.02,352.11 454.32,352.59 454.61,356.93 454.91,351.52 455.20,349.55 455.50,354.93 455.79,351.21 456.09,352.95 456.38,356.29 456.68,352.09 456.97,356.30 457.27,352.50 457.56,357.89 457.86,357.53 458.15,353.13 458.45,353.80 458.74,352.30 459.04,354.91 459.33,357.33 459.63,350.86 459.92,356.84 460.22,351.23 460.51,352.44 460.81,350.12 461.10,360.04 461.40,354.88 461.69,355.40 461.99,353.09 462.28,357.59 462.58,349.49 462.87,355.01 463.17,360.67 463.46,354.03 463.76,355.10 464.05,356.85" fill="none" stroke="none" marker-start="url(#m2)" marker-mid="url(#m2)" marker-end="url(#m2)"/><path d="M115.5 273.8L116.1 273.7L116.7 273.5L117.3 273.2L117.9 272.7L118.5 272.0L119.0 271.2L119.6 270.5L120.2 269.9L120.8 269.3L121.4 268.8" fill="none" stroke="#DDB5E0" stroke-width="22.3" stroke-linejoin="round" stroke-linecap="round"/><path d="M122.0 268.4L122.6 268.2L123.2 268.0L123.8 267.8L124.4 267.6L124.9 267.4L125.5 267.3L126.1 267.2L126.7 267.1L127.3 267.0L127.9 266.9L128.5 266.9L129.1 266.8L129.7 266.8L130.3 266.7L130.8 266.7" fill="none" stroke="#DDB5E0" stroke-width="3" stroke-linejoin="round" stroke-linecap="butt"/><path d="M146.8 290.4L147.9 291.7L149.1 292.7L150.3 293.6L151.5 294.4L152.7 295.1L153.8 295.8L155.0 296.4L156.2 297.0L157.4 297.6L158.6 298.1L159.7 298.7L160.9 299.2L162.1 299.7L163.3 300.3L164.5 300.8L165.6 301.3L166.8 301.9L168.0 302.4L169.2 303.0L170.4 303.6L171.5 304.2L172.7 304.8L173.9 305.4L175.1 306.0L176.3 306.7L177.4 307.3L178.6 307.9L179.8 308.6L181.0 309.2L182.1 309.9L183.3 310.6L184.5 311.2L185.7 311.9L186.9 312.5L188.0 313.2L189.2 313.9L190.4 314.5L191.6 315.2L192.8 315.9L193.9 316.5L195.1 317.2L196.3 317.9L197.5 318.6L198.7 319.3L199.8 320.0L201.0 320.7L202.2 321.4L203.4 322.1L204.6 322.8L205.7 323.5L206.9 324.2L208.1 324.9L209.3 325.6L210.5 326.3L211.6 327.0L212.8 327.8L214.0 328.5L215.2 329.2L216.4 329.8L217.5 330.4L218.7 331.0L219.9 331.5L221.1 331.6L222.3 331.3L223.4 330.8L224.6 330.4L225.8 330.1L227.0 329.8L228.2 329.6L229.3 329.4L230.5 329.2L231.7 329.1L232.9 329.0L234.0 328.9L235.2 328.9L236.4 328.9L237.6 329.0L238.8 329.1L239.9 329.2L241.1 329.3L242.3 329.4L243.5 329.5L244.7 329.7L245.8 329.8L247.0 330.0L248.2 330.2L249.4 330.4L250.6 330.6L251.7 330.8L252.9 331.0L254.1 331.1L255.3 331.2L256.5 331.2L257.6 331.3L258.8 331.3L260.0 331.4L261.2 331.4L262.4 331.4L263.5 331.5L264.7 331.5L265.9 331.5L267.1 331.6L268.3 331.6L269.4 331.7L270.6 331.7L271.8 331.8L273.0 331.9L274.2 332.0L275.3 332.1L276.5 332.2L277.7 332.3L278.9 332.4L280.0 332.6L281.2 332.7L282.4 332.8L283.6 333.0L284.8 333.1L285.9 333.3L287.1 333.4L288.3 333.6L289.5 333.8L290.7 334.0L291.8 334.2L293.0 334.3L294.2 334.5L295.4 334.7L296.6 334.9L297.7 335.1L298.9 335.3L300.1 335.6L301.3 335.8L302.5 336.0L303.6 336.2L304.8 336.4L306.0 336.6L307.2 336.8L308.4 337.0L309.5 337.2L310.7 337.4" fill="none" stroke="#DDB5E0" stroke-width="22.3" stroke-linejoin="round" stroke-linecap="round"/><path d="M167.7 301.8L169.2 302.6L172.1 304.2L175.1 305.9L178.0 307.5L181.0 309.1L183.9 310.8L186.9 312.4L189.8 314.1L192.8 315.8L195.7 317.5L198.7 319.3L201.6 321.0L204.6 322.6L207.5 324.2L210.5 325.7L213.4 327.1L216.4 328.2L219.3 329.1L222.3 329.6L225.2 330.0L228.2 330.2L231.1 330.3L234.0 330.5L237.0 330.5L239.9 330.6L242.9 330.7L245.8 330.8L248.8 330.8L251.7 330.9L254.7 331.0L257.6 331.1L260.6 331.1L263.5 331.2L266.5 331.3L269.4 331.5L272.4 331.7L275.3 332.0L278.3 332.3L281.2 332.7L284.2 333.1L287.1 333.5L290.1 333.9L293.0 334.4L296.0 334.9L298.9 335.4L301.9 335.9L304.8 336.4L307.8 336.9L310.7 337.4L313.7 337.9L316.6 338.4L319.6 338.9L322.5 339.4L325.5 339.9L328.4 340.4L331.4 341.0L334.3 341.5L337.3 341.9L340.2 342.4L343.2 342.8L346.1 343.2L349.0 343.6L352.0 343.9L354.9 344.3L357.9 344.6L360.8 344.9L363.8 345.2L366.7 345.4L369.7 345.7L372.6 346.0L375.6 346.3L378.5 346.5L381.5 346.8L384.4 347.1L387.4 347.3L390.3 347.6L393.3 347.9L396.2 348.1L399.2 348.4L402.1 348.6L405.1 348.9L408.0 349.1L411.0 349.4L413.9 349.7L416.9 349.9L419.8 350.2L422.8 350.5L425.7 350.7L428.7 351.0L431.6 351.3L434.6 351.6L437.5 351.9L440.5 352.2L443.4 352.5L446.4 352.8L449.3 353.2L452.3 353.5L455.2 353.9L458.2 354.3L461.1 354.7L464.1 355.1" fill="none" stroke="#8C3C96" stroke-width="4.4" stroke-linejoin="round"/></g>
<text transform="translate(444.20,296.00)" font-size="29.8" text-anchor="end" fill="#8C3C96">Cu-30 s</text>
<text transform="translate(55.20,268.70) translate(-0.6,0) scale(1.17,1)" font-size="29.5" text-anchor="start" fill="#000" stroke="#fff" stroke-width="0.4" textLength="30.26" lengthAdjust="spacing">10</text>
<text transform="translate(90.00,259.50) translate(-0.6,0) scale(1.17,1)" font-size="20.6" text-anchor="start" fill="#000" stroke="#fff" stroke-width="0.4" textLength="10.00" lengthAdjust="spacing">8</text>
<text transform="translate(55.20,328.58) translate(-0.6,0) scale(1.17,1)" font-size="29.5" text-anchor="start" fill="#000" stroke="#fff" stroke-width="0.4" textLength="30.26" lengthAdjust="spacing">10</text>
<text transform="translate(90.00,319.38) translate(-0.6,0) scale(1.17,1)" font-size="20.6" text-anchor="start" fill="#000" stroke="#fff" stroke-width="0.4" textLength="10.00" lengthAdjust="spacing">4</text>
<clipPath id="c3"><rect x="110.20" y="371.00" width="353.85" height="118.20"/></clipPath>
<marker id="m3" markerUnits="userSpaceOnUse" markerWidth="24" markerHeight="24" refX="12" refY="12" overflow="visible"><circle cx="12" cy="12" r="10.65" fill="#fff" stroke="#DCC8A0" stroke-width="1.0"/></marker>
<marker id="n3" markerUnits="userSpaceOnUse" markerWidth="24" markerHeight="24" refX="12" refY="12" overflow="visible"><circle cx="12" cy="12" r="10.65" fill="#fff" stroke="#DCC8A0" stroke-width="0.75"/></marker>
<g clip-path="url(#c3)"><polyline points="112.26,378.00 112.41,380.69 112.56,383.20 112.71,385.46 112.85,387.43 113.00,389.04 113.15,390.25 113.30,391.00 113.44,391.46 113.59,391.84 113.74,392.14 113.89,392.36 114.03,392.50 114.18,392.59 114.33,392.68 114.48,392.76 114.62,392.83 114.77,392.89 114.92,392.93 115.07,392.97 115.21,392.99 115.36,393.00 115.51,393.00 115.66,392.98 115.80,392.96 115.95,392.92 116.10,392.88 116.24,392.82 116.39,392.77 116.54,392.70 116.69,392.63 116.83,392.56 116.98,392.49 117.13,392.41 117.28,392.33 117.42,392.24 117.57,392.12 117.72,391.99 117.87,391.84 118.01,391.67 118.16,391.49 118.31,391.30 118.46,391.10 118.60,390.90 118.75,390.70 118.90,390.50 119.05,390.30 119.19,390.10 119.34,389.92 119.49,389.75 119.64,389.59 119.78,389.44 119.93,389.28 120.08,389.13 120.23,388.97 120.37,388.82 120.52,388.67 120.67,388.52 120.82,388.37 120.96,388.23 121.11,388.09 121.26,387.96 121.41,387.84 121.55,387.73 121.70,387.63 121.85,387.53 122.00,387.45 122.14,387.38 122.29,387.30 122.44,387.23 122.58,387.16 122.73,387.10 122.88,387.04 123.03,386.97 123.17,386.91 123.32,386.86 123.47,386.80 123.62,386.74 123.76,386.69 123.91,386.64 124.06,386.59 124.21,386.55 124.35,386.50 124.50,386.45 124.65,386.41 124.80,386.37 124.94,386.33 125.09,386.29 125.24,386.25 125.39,386.22 125.53,386.18 125.68,386.15 125.83,386.12 125.98,386.09 126.12,386.06 126.27,386.03 126.42,386.00 126.57,385.97 126.71,385.94 126.86,385.91 127.01,385.89 127.16,385.86 127.30,385.84 127.45,385.81 127.60,385.79 127.75,385.76 127.89,385.74 128.04,385.72 128.19,385.70 128.33,385.68 128.48,385.65 128.63,385.63 128.78,385.61 128.92,385.59 129.07,385.58 129.22,385.56 129.37,385.54 129.51,385.52 129.66,385.50 129.81,385.49 129.96,385.47 130.10,385.45 130.25,385.44 130.40,385.42 130.55,385.41 130.69,385.39 130.84,385.38 130.99,385.36 131.14,385.35 131.28,385.33 131.43,385.32 131.58,385.30 131.73,385.29 131.87,385.28 132.02,385.26 132.17,385.25 132.32,385.24 132.46,385.23 132.61,385.21 132.76,385.20 132.91,385.19 133.05,385.18 133.20,385.17 133.35,385.16 133.50,385.15 133.64,385.14 133.79,385.12 133.94,385.11 134.08,385.10 134.23,385.10 134.38,385.09 134.53,385.08 134.67,385.07 134.82,385.06 134.97,385.05 135.12,385.04 135.26,385.03 135.41,385.02 135.56,385.01 135.71,385.00 135.85,385.00 136.00,384.99 136.15,384.98 136.30,384.97 136.44,384.96 136.59,384.95 136.74,384.94 136.89,384.94 137.03,384.93 137.18,384.92 137.33,384.92 137.48,384.91 137.62,384.91 137.77,384.90 137.92,384.90 138.07,384.90 138.21,384.90 138.36,384.90 138.51,384.92 138.66,384.95 138.80,385.01 138.95,385.28" fill="none" stroke="none" marker-start="url(#m3)" marker-mid="url(#m3)" marker-end="url(#m3)"/><polyline points="139.01,385.75 139.06,386.41 139.11,387.49 139.15,388.90 139.20,390.54 139.25,392.31 139.30,394.12 139.35,395.85 139.40,397.42 139.44,398.72 139.49,399.67 139.54,400.15 139.69,400.74 139.83,401.17 139.98,401.50 140.13,401.75 140.28,401.96 140.42,402.16 140.57,402.36 140.72,402.54 140.87,402.70" fill="none" stroke="none" marker-start="url(#n3)" marker-mid="url(#n3)" marker-end="url(#n3)"/><polyline points="141.01,402.84 141.16,402.98 141.31,403.10 141.46,403.23 141.60,403.35 141.75,403.47 141.90,403.59 142.05,403.69 142.19,403.80 142.34,403.89 142.49,403.99 142.64,404.10 142.78,404.20 142.93,404.32 143.08,404.45 143.23,404.59 143.37,404.73 143.52,404.89 143.67,405.04 143.82,405.20 143.96,405.36 144.11,405.53 144.26,405.69 144.41,405.86 144.55,406.03 144.70,406.19 144.85,406.35 145.00,406.51 145.14,406.68 145.29,406.85 145.44,407.03 145.59,407.20 145.88,407.56 146.17,407.91 146.47,408.27 146.76,408.61 147.06,408.93 147.35,409.24 147.65,409.53 147.94,409.79 148.24,410.04 148.53,410.28 148.83,410.51 149.12,410.73 149.42,410.95 149.71,411.16 150.01,411.36 150.30,411.55 150.60,411.74 150.89,411.93 151.19,412.11 151.48,412.29 151.78,412.46 152.07,412.63 152.37,412.79 152.66,412.95 152.96,413.10 153.25,413.25 153.55,413.40 153.84,413.54 154.14,413.69 154.43,413.83 154.73,413.96 155.02,414.10 155.32,414.23 155.61,414.37 155.91,414.49 156.20,414.62 156.50,414.75 156.79,414.87 157.09,415.00 157.38,415.12 157.67,415.24 157.97,415.36 158.26,415.48 158.56,415.60 158.85,415.71 159.15,415.83 159.44,415.95 159.74,416.07 160.03,416.19 160.33,416.30 160.62,416.42 160.92,416.53 161.21,416.64 161.51,416.76 161.80,416.87 162.10,416.98 162.39,417.09 162.69,417.20 162.98,417.31 163.28,417.43 163.57,417.54 163.87,417.65 164.16,417.77 164.46,417.88 164.75,418.00 165.05,418.11 165.34,418.23 165.64,418.34 165.93,418.46 166.23,418.57 166.52,418.68 166.82,418.80 167.11,418.91 167.41,419.03 167.70,419.15 168.00,419.28 168.29,419.40 168.59,419.53 168.88,419.66 169.18,419.80 169.47,419.94 169.76,420.08 170.06,420.23 170.35,420.38 170.65,420.53 170.94,420.68 171.24,420.84 171.53,421.00 171.83,421.16 172.12,421.32 172.42,421.49 172.71,421.65 173.01,421.82 173.30,421.99 173.60,422.17 173.89,422.34 174.19,422.52 174.48,422.70 174.78,422.88 175.07,423.06 175.37,423.24 175.66,423.42 175.96,423.60 176.25,423.79 176.55,423.97 176.84,424.16 177.14,424.35 177.43,424.54 177.73,424.72 178.02,424.91 178.32,425.10 178.61,425.29 178.91,425.48 179.20,425.67 179.50,425.86 179.79,426.05 180.09,426.24 180.38,426.42 180.68,426.61 180.97,426.80 181.26,426.99 181.56,427.18 181.85,427.37 182.15,427.56 182.44,427.75 182.74,427.94 183.03,428.14 183.33,428.33 183.62,428.53 183.92,428.73 184.21,428.93 184.51,429.12 184.80,429.32 185.10,429.52 185.39,429.73 185.69,429.93 185.98,430.13 186.28,430.33 186.57,430.54 186.87,430.74 187.16,430.94 187.46,431.15 187.75,431.35 188.05,431.56 188.34,431.77 188.64,431.97 188.93,432.18 189.23,432.39 189.52,432.59 189.82,432.80 190.11,433.01 190.41,433.22 190.70,433.43 191.00,433.64 191.29,433.85 191.59,434.06 191.88,434.27 192.18,434.49 192.47,434.70 192.77,434.92 193.06,435.13 193.35,435.35 193.65,435.56 193.94,435.78 194.24,436.00 194.53,436.21 194.83,436.43 195.12,436.65 195.42,436.87 195.71,437.09 196.01,437.30 196.30,437.52 196.60,437.74 196.89,437.96 197.19,438.18 197.48,438.40 197.78,438.61 198.07,438.83 198.37,439.05 198.66,439.27 198.96,439.48 199.25,439.70 199.55,439.91 199.84,440.13 200.14,440.34 200.43,440.56 200.73,440.77 201.02,440.99 201.32,441.20 201.61,441.42 201.91,441.64 202.20,441.86 202.50,442.08 202.79,442.31 203.09,442.53 203.38,442.75 203.68,442.98 203.97,443.20 204.27,443.42 204.56,443.65 204.85,443.87 205.15,444.09 205.44,444.31 205.74,444.53 206.03,444.75 206.33,444.97 206.62,445.19 206.92,445.41 207.21,445.62 207.51,445.83 207.80,446.04 208.10,446.25 208.39,446.46 208.69,446.66 208.98,446.86 209.28,447.06 209.57,447.26 209.87,447.45 210.16,447.64 210.46,447.83 210.75,448.01 211.05,448.19 211.34,448.37 211.64,448.55 211.93,448.73 212.23,448.91 212.52,449.09 212.82,449.27 213.11,449.45 213.41,449.62 213.70,449.79 214.00,449.96 214.29,450.12 214.59,450.28 214.88,450.42 215.18,450.56 215.47,450.68 215.77,450.80 216.06,450.91 216.36,451.00 216.65,451.08 216.94,451.17 217.24,451.26 217.53,451.35 217.83,451.43 218.12,451.51 218.42,451.58 218.71,451.66 219.01,451.73 219.30,451.80 219.60,451.86 219.89,451.91 220.19,451.97 220.48,452.01 220.78,452.04 221.07,452.06 221.37,452.10 221.66,452.09 221.96,452.10 222.25,452.06 222.55,451.94 222.84,451.81 223.14,451.62 223.43,451.43 223.73,451.20 224.02,450.97 224.32,450.71 224.61,450.46 224.91,450.23 225.20,449.98 225.50,449.78 225.79,449.62 226.09,449.43 226.38,449.26 226.68,449.10 226.97,448.92 227.27,448.74 227.56,448.62 227.86,448.44 228.15,448.28 228.44,448.13 228.74,447.97 229.03,447.82 229.33,447.70 229.62,447.60 229.92,447.45 230.21,447.33 230.51,447.17 230.80,447.09 231.10,446.98 231.39,446.92 231.69,446.82 231.98,446.73 232.28,446.65 232.57,446.55 232.87,446.45 233.16,446.41 233.46,446.29 233.75,446.22 234.05,446.17 234.34,446.09 234.64,446.04 234.93,446.00 235.23,445.92 235.52,445.86 235.82,445.80 236.11,445.77 236.41,445.64 236.70,445.66 237.00,445.58 237.29,445.53 237.59,445.53 237.88,445.49 238.18,445.49 238.47,445.48 238.77,445.35 239.06,445.39 239.36,445.44 239.65,445.37 239.95,445.37 240.24,445.30 240.53,445.22 240.83,445.21 241.12,445.25 241.42,445.24 241.71,445.15 242.01,445.15 242.30,445.15 242.60,445.05 242.89,445.08 243.19,445.15 243.48,445.16 243.78,445.04 244.07,445.11 244.37,444.99 244.66,444.96 244.96,444.88 245.25,445.02 245.55,444.94 245.84,445.06 246.14,444.96 246.43,444.94 246.73,444.83 247.02,444.99 247.32,444.89 247.61,444.90 247.91,444.78 248.20,444.95 248.50,444.95 248.79,444.86 249.09,444.90 249.38,444.93 249.68,444.97 249.97,444.92 250.27,445.03 250.56,444.92 250.86,444.91 251.15,444.93 251.45,444.81 251.74,444.94 252.03,445.08 252.33,445.05 252.62,445.00 252.92,445.11 253.21,444.96 253.51,445.11 253.80,445.20 254.10,445.24 254.39,445.16 254.69,445.31 254.98,445.42 255.28,445.27 255.57,445.40 255.87,445.25 256.16,445.25 256.46,445.49 256.75,445.48 257.05,445.53 257.34,445.50 257.64,445.56 257.93,445.69 258.23,445.80 258.52,445.67 258.82,445.58 259.11,445.88 259.41,445.86 259.70,445.91 260.00,445.91 260.29,446.16 260.59,446.00 260.88,446.10 261.18,445.93 261.47,446.12 261.77,446.18 262.06,446.31 262.36,446.43 262.65,446.39 262.95,446.73 263.24,446.51 263.54,446.66 263.83,446.82 264.12,446.74 264.42,447.03 264.71,447.12 265.01,447.11 265.30,447.45 265.60,447.33 265.89,447.44 266.19,447.38 266.48,447.38 266.78,447.60 267.07,447.72 267.37,447.79 267.66,448.02 267.96,447.71 268.25,447.95 268.55,447.93 268.84,448.42 269.14,448.24 269.43,448.32 269.73,448.31 270.02,448.64 270.32,448.52 270.61,448.67 270.91,448.42 271.20,448.93 271.50,448.88 271.79,448.96 272.09,449.11 272.38,448.96 272.68,449.02 272.97,449.20 273.27,449.22 273.56,449.17 273.86,449.26 274.15,449.23 274.45,449.47 274.74,449.56 275.04,449.47 275.33,449.82 275.62,449.32 275.92,449.58 276.21,449.95 276.51,449.65 276.80,449.51 277.10,450.07 277.39,449.97 277.69,449.73 277.98,450.12 278.28,449.86 278.57,449.86 278.87,450.13 279.16,450.13 279.46,450.07 279.75,450.26 280.05,450.20 280.34,450.46 280.64,450.51 280.93,450.72 281.23,450.55 281.52,450.45 281.82,450.51 282.11,450.78 282.41,451.20 282.70,451.13 283.00,450.90 283.29,451.29 283.59,450.93 283.88,451.44 284.18,451.22 284.47,451.53 284.77,451.57 285.06,451.45 285.36,451.65 285.65,451.42 285.95,451.71 286.24,452.03 286.54,452.78 286.83,452.10 287.13,452.03 287.42,451.85 287.71,452.40 288.01,451.84 288.30,452.11 288.60,452.46 288.89,452.16 289.19,452.89 289.48,452.86 289.78,452.53 290.07,452.61 290.37,452.49 290.66,452.54 290.96,453.08 291.25,453.20 291.55,453.20 291.84,453.26 292.14,453.12 292.43,453.43 292.73,453.03 293.02,453.49 293.32,453.95 293.61,453.99 293.91,453.58 294.20,453.69 294.50,454.23 294.79,454.42 295.09,453.58 295.38,453.95 295.68,454.21 295.97,454.56 296.27,454.05 296.56,454.55 296.86,454.35 297.15,455.20 297.45,454.70 297.74,454.61 298.04,454.62 298.33,455.10 298.63,455.06 298.92,454.59 299.21,455.06 299.51,454.65 299.80,454.89 300.10,454.79 300.39,454.84 300.69,455.11 300.98,455.08 301.28,455.63 301.57,455.78 301.87,455.51 302.16,455.28 302.46,455.98 302.75,455.11 303.05,455.20 303.34,456.15 303.64,456.20 303.93,456.37 304.23,456.04 304.52,455.74 304.82,456.07 305.11,456.51 305.41,456.11 305.70,456.20 306.00,456.02 306.29,456.17 306.59,456.96 306.88,456.89 307.18,456.37 307.47,456.47 307.77,456.73 308.06,457.21 308.36,456.64 308.65,457.08 308.95,456.40 309.24,456.81 309.54,457.52 309.83,457.77 310.13,457.04 310.42,457.26 310.72,457.94 311.01,457.54 311.30,457.55 311.60,458.04 311.89,457.98 312.19,458.42 312.48,458.36 312.78,457.86 313.07,458.12 313.37,458.21 313.66,457.73 313.96,457.95 314.25,458.83 314.55,457.81 314.84,458.97 315.14,458.73 315.43,458.61 315.73,458.96 316.02,458.99 316.32,459.38 316.61,458.72 316.91,458.85 317.20,458.90 317.50,459.91 317.79,459.55 318.09,458.75 318.38,459.07 318.68,458.95 318.97,459.33 319.27,459.47 319.56,460.49 319.86,458.60 320.15,459.99 320.45,459.76 320.74,459.25 321.04,459.56 321.33,459.43 321.63,459.73 321.92,460.24 322.22,459.03 322.51,460.46 322.80,459.66 323.10,460.63 323.39,460.11 323.69,460.56 323.98,460.25 324.28,460.54 324.57,460.03 324.87,459.60 325.16,460.40 325.46,460.44 325.75,461.19 326.05,459.05 326.34,460.03 326.64,460.72 326.93,459.50 327.23,460.06 327.52,461.36 327.82,461.00 328.11,459.76 328.41,461.04 328.70,460.93 329.00,460.72 329.29,460.52 329.59,460.46 329.88,459.85 330.18,460.06 330.47,460.79 330.77,460.46 331.06,461.46 331.36,460.22 331.65,459.02 331.95,460.24 332.24,460.61 332.54,460.69 332.83,460.52 333.13,460.00 333.42,461.40 333.72,460.11 334.01,460.96 334.31,460.36 334.60,459.81 334.89,461.43 335.19,459.02 335.48,460.05 335.78,460.86 336.07,460.38 336.37,461.09 336.66,460.57 336.96,460.35 337.25,462.04 337.55,460.52 337.84,460.57 338.14,459.98 338.43,460.21 338.73,461.13 339.02,461.09 339.32,460.73 339.61,460.28 339.91,461.22 340.20,459.62 340.50,460.55 340.79,460.62 341.09,460.23 341.38,460.92 341.68,460.37 341.97,460.29 342.27,462.11 342.56,461.39 342.86,461.73 343.15,460.94 343.45,461.60 343.74,461.48 344.04,461.81 344.33,462.66 344.63,460.81 344.92,461.18 345.22,460.97 345.51,458.45 345.81,460.01 346.10,461.07 346.39,461.55 346.69,460.66 346.98,461.96 347.28,462.10 347.57,460.84 347.87,462.25 348.16,462.52 348.46,461.56 348.75,460.47 349.05,462.38 349.34,461.14 349.64,460.99 349.93,461.39 350.23,460.90 350.52,462.19 350.82,461.98 351.11,462.35 351.41,461.86 351.70,460.78 352.00,461.31 352.29,462.17 352.59,461.15 352.88,463.89 353.18,461.32 353.47,461.06 353.77,462.51 354.06,462.20 354.36,461.58 354.65,461.43 354.95,462.00 355.24,462.37 355.54,462.34 355.83,461.45 356.13,462.10 356.42,462.48 356.72,462.44 357.01,459.12 357.31,461.04 357.60,461.16 357.90,461.66 358.19,462.05 358.48,462.73 358.78,462.49 359.07,461.85 359.37,462.00 359.66,463.59 359.96,461.48 360.25,462.33 360.55,463.51 360.84,462.42 361.14,460.25 361.43,462.50 361.73,461.82 362.02,462.10 362.32,463.22 362.61,462.70 362.91,462.04 363.20,463.16 363.50,462.75 363.79,462.47 364.09,462.68 364.38,462.67 364.68,462.12 364.97,462.03 365.27,462.53 365.56,461.60 365.86,461.33 366.15,463.88 366.45,462.38 366.74,462.63 367.04,462.55 367.33,462.74 367.63,462.77 367.92,462.84 368.22,461.99 368.51,463.79 368.81,462.16 369.10,463.96 369.40,460.95 369.69,461.87 369.98,464.03 370.28,462.88 370.57,462.37 370.87,463.50 371.16,462.04 371.46,463.26 371.75,460.86 372.05,462.78 372.34,462.60 372.64,463.92 372.93,464.33 373.23,462.50 373.52,465.22 373.82,462.86 374.11,461.30 374.41,460.98 374.70,465.35 375.00,463.59 375.29,463.01 375.59,462.95 375.88,462.60 376.18,465.40 376.47,463.83 376.77,466.01 377.06,463.80 377.36,461.38 377.65,465.09 377.95,463.75 378.24,463.95 378.54,466.10 378.83,464.02 379.13,465.74 379.42,464.42 379.72,463.60 380.01,465.14 380.31,463.88 380.60,466.11 380.90,465.85 381.19,464.83 381.49,465.54 381.78,465.54 382.07,464.58 382.37,466.06 382.66,464.75 382.96,465.84 383.25,463.96 383.55,465.32 383.84,465.76 384.14,464.32 384.43,464.84 384.73,464.75 385.02,466.39 385.32,464.62 385.61,466.14 385.91,467.59 386.20,466.16 386.50,463.69 386.79,465.98 387.09,467.22 387.38,465.56 387.68,467.43 387.97,466.85 388.27,466.65 388.56,465.81 388.86,465.54 389.15,465.93 389.45,466.41 389.74,467.08 390.04,467.00 390.33,466.09 390.63,466.64 390.92,467.13 391.22,464.46 391.51,465.67 391.81,465.68 392.10,466.55 392.40,466.50 392.69,466.58 392.99,465.79 393.28,467.99 393.57,467.50 393.87,464.87 394.16,467.25 394.46,465.70 394.75,469.75 395.05,466.76 395.34,466.91 395.64,467.65 395.93,467.30 396.23,467.56 396.52,469.94 396.82,468.10 397.11,469.05 397.41,469.54 397.70,466.53 398.00,470.50 398.29,469.10 398.59,469.56 398.88,466.93 399.18,469.49 399.47,468.95 399.77,467.59 400.06,471.89 400.36,469.38 400.65,468.22 400.95,468.94 401.24,470.10 401.54,470.50 401.83,469.73 402.13,470.77 402.42,471.23 402.72,467.12 403.01,468.34 403.31,467.69 403.60,469.37 403.90,471.55 404.19,470.37 404.49,467.76 404.78,469.01 405.08,471.17 405.37,468.75 405.66,469.50 405.96,470.21 406.25,466.85 406.55,471.10 406.84,470.46 407.14,470.88 407.43,468.43 407.73,468.83 408.02,469.16 408.32,470.61 408.61,470.37 408.91,470.53 409.20,473.35 409.50,472.61 409.79,469.29 410.09,469.45 410.38,473.49 410.68,470.12 410.97,473.05 411.27,473.48 411.56,469.90 411.86,470.42 412.15,471.07 412.45,469.50 412.74,469.35 413.04,470.39 413.33,472.61 413.63,470.41 413.92,470.87 414.22,470.47 414.51,468.94 414.81,474.00 415.10,467.29 415.40,470.32 415.69,472.53 415.99,469.09 416.28,472.71 416.58,473.93 416.87,470.18 417.16,472.15 417.46,469.81 417.75,472.79 418.05,472.08 418.34,472.36 418.64,474.52 418.93,472.93 419.23,474.59 419.52,473.33 419.82,469.97 420.11,472.73 420.41,473.21 420.70,469.63 421.00,474.89 421.29,472.56 421.59,473.17 421.88,470.82 422.18,472.71 422.47,473.19 422.77,472.03 423.06,472.86 423.36,468.67 423.65,475.42 423.95,470.68 424.24,468.64 424.54,471.05 424.83,471.34 425.13,474.07 425.42,471.26 425.72,473.66 426.01,471.24 426.31,477.55 426.60,474.31 426.90,477.16 427.19,471.28 427.49,474.68 427.78,471.47 428.08,474.60 428.37,474.84 428.67,470.28 428.96,471.24 429.25,471.21 429.55,470.56 429.84,472.17 430.14,471.74 430.43,470.77 430.73,473.99 431.02,474.96 431.32,471.13 431.61,472.74 431.91,473.96 432.20,473.50 432.50,472.55 432.79,475.77 433.09,475.89 433.38,475.58 433.68,473.73 433.97,478.45 434.27,477.97 434.56,473.42 434.86,474.06 435.15,476.92 435.45,472.66 435.74,475.29 436.04,474.56 436.33,472.96 436.63,474.02 436.92,471.11 437.22,473.40 437.51,470.23 437.81,479.72 438.10,478.05 438.40,477.48 438.69,475.45 438.99,477.05 439.28,477.70 439.58,477.17 439.87,476.99 440.17,472.88 440.46,475.95 440.75,473.80 441.05,472.35 441.34,472.47 441.64,476.10 441.93,477.57 442.23,472.02 442.52,479.25 442.82,478.66 443.11,474.39 443.41,474.23 443.70,475.17 444.00,477.68 444.29,474.51 444.59,472.83 444.88,476.29 445.18,470.61 445.47,475.87 445.77,478.33 446.06,476.33 446.36,477.50 446.65,476.85 446.95,477.45 447.24,476.08 447.54,473.75 447.83,475.24 448.13,475.64 448.42,478.93 448.72,479.87 449.01,476.95 449.31,474.09 449.60,474.17 449.90,475.54 450.19,479.48 450.49,476.90 450.78,475.96 451.08,474.21 451.37,478.37 451.67,476.92 451.96,476.09 452.26,476.51 452.55,480.55 452.84,475.90 453.14,480.64 453.43,479.54 453.73,476.53 454.02,478.69 454.32,476.13 454.61,474.34 454.91,475.81 455.20,474.18 455.50,477.89 455.79,476.63 456.09,478.10 456.38,478.81 456.68,468.47 456.97,477.52 457.27,471.97 457.56,477.20 457.86,474.45 458.15,477.08 458.45,480.48 458.74,472.29 459.04,477.40 459.33,476.70 459.63,471.84 459.92,478.71 460.22,477.08 460.51,475.63 460.81,475.07 461.10,485.83 461.40,476.01 461.69,472.17 461.99,474.57 462.28,476.15 462.58,476.12 462.87,476.99 463.17,474.32 463.46,478.76 463.76,475.93 464.05,473.49" fill="none" stroke="none" marker-start="url(#m3)" marker-mid="url(#m3)" marker-end="url(#m3)"/><path d="M115.5 393.0L116.1 392.9L116.7 392.6L117.3 392.3L117.9 391.8L118.5 391.1L119.0 390.3L119.6 389.6L120.2 389.0L120.8 388.4L121.4 387.8" fill="none" stroke="#DCC8A0" stroke-width="22.3" stroke-linejoin="round" stroke-linecap="round"/><path d="M122.0 387.4L122.6 387.2L123.2 386.9L123.8 386.7L124.4 386.5L124.9 386.3L125.5 386.2L126.1 386.1L126.7 385.9L127.3 385.8L127.9 385.7L128.5 385.7L129.1 385.6L129.7 385.5L130.3 385.4L130.8 385.4" fill="none" stroke="#DCC8A0" stroke-width="3" stroke-linejoin="round" stroke-linecap="butt"/><path d="M146.8 408.6L147.9 409.8L149.1 410.7L150.3 411.6L151.5 412.3L152.7 413.0L153.8 413.5L155.0 414.1L156.2 414.6L157.4 415.1L158.6 415.6L159.7 416.1L160.9 416.5L162.1 417.0L163.3 417.4L164.5 417.9L165.6 418.3L166.8 418.8L168.0 419.3L169.2 419.8L170.4 420.4L171.5 421.0L172.7 421.7L173.9 422.3L175.1 423.1L176.3 423.8L177.4 424.5L178.6 425.3L179.8 426.0L181.0 426.8L182.1 427.6L183.3 428.3L184.5 429.1L185.7 429.9L186.9 430.7L188.0 431.6L189.2 432.4L190.4 433.2L191.6 434.1L192.8 434.9L193.9 435.8L195.1 436.6L196.3 437.5L197.5 438.4L198.7 439.3L199.8 440.1L201.0 441.0L202.2 441.9L203.4 442.8L204.6 443.6L205.7 444.5L206.9 445.4L208.1 446.3L209.3 447.1L210.5 447.8L211.6 448.5L212.8 449.3L214.0 450.0L215.2 450.6L216.4 451.0L217.5 451.3L218.7 451.7L219.9 451.9L221.1 452.1L222.3 452.0L223.4 451.4L224.6 450.5L225.8 449.6L227.0 448.9L228.2 448.3L229.3 447.7L230.5 447.2L231.7 446.8L232.9 446.5L234.0 446.2L235.2 445.9L236.4 445.7L237.6 445.5L238.8 445.4L239.9 445.3L241.1 445.2L242.3 445.1L243.5 445.1L244.7 445.0L245.8 445.0L247.0 444.9L248.2 444.9L249.4 444.9L250.6 444.9L251.7 445.0L252.9 445.1L254.1 445.2L255.3 445.3L256.5 445.4L257.6 445.6L258.8 445.7L260.0 445.9L261.2 446.1L262.4 446.4L263.5 446.7L264.7 447.1L265.9 447.4L267.1 447.8L268.3 448.1L269.4 448.4L270.6 448.6L271.8 448.9L273.0 449.1L274.2 449.3L275.3 449.5L276.5 449.7L277.7 449.9L278.9 450.2L280.0 450.4L281.2 450.6L282.4 450.9L283.6 451.2L284.8 451.5L285.9 451.7L287.1 452.0L288.3 452.3L289.5 452.6L290.7 452.9L291.8 453.2L293.0 453.5L294.2 453.8L295.4 454.1L296.6 454.4L297.7 454.7L298.9 454.9L300.1 455.2L301.3 455.5L302.5 455.7L303.6 456.0L304.8 456.3" fill="none" stroke="#DCC8A0" stroke-width="22.3" stroke-linejoin="round" stroke-linecap="round"/><path d="M167.7 417.6L169.2 418.3L172.1 419.8L175.1 421.4L178.0 423.1L181.0 424.8L183.9 426.6L186.9 428.5L189.8 430.4L192.8 432.5L195.7 434.7L198.7 436.9L201.6 439.0L204.6 441.3L207.5 443.5L210.5 445.2L213.4 446.6L216.4 447.7L219.3 448.0L222.3 447.7L225.2 447.1L228.2 446.5L231.1 445.9L234.0 445.3L237.0 444.9L239.9 444.7L242.9 444.5L245.8 444.4L248.8 444.4L251.7 444.5L254.7 444.8L257.6 445.2L260.6 445.6L263.5 446.4L266.5 447.3L269.4 448.2L272.4 448.8L275.3 449.4L278.3 450.0L281.2 450.7L284.2 451.3L287.1 452.1L290.1 452.8L293.0 453.5L296.0 454.2L298.9 454.9L301.9 455.6L304.8 456.3L307.8 457.0L310.7 457.6L313.7 458.3L316.6 458.9L319.6 459.4L322.5 459.8L325.5 460.1L328.4 460.3L331.4 460.4L334.3 460.6L337.3 460.7L340.2 460.8L343.2 460.9L346.1 461.1L349.0 461.2L352.0 461.4L354.9 461.6L357.9 461.9L360.8 462.1L363.8 462.4L366.7 462.7L369.7 463.0L372.6 463.3L375.6 463.8L378.5 464.3L381.5 464.8L384.4 465.4L387.4 465.9L390.3 466.5L393.3 467.0L396.2 467.6L399.2 468.2L402.1 468.9L405.1 469.5L408.0 470.1L411.0 470.7L413.9 471.2L416.9 471.7L419.8 472.2L422.8 472.6L425.7 473.1L428.7 473.5L431.6 473.9L434.6 474.3L437.5 474.6L440.5 475.0L443.4 475.3L446.4 475.6L449.3 475.9L452.3 476.2L455.2 476.5L458.2 476.8L461.1 477.1L464.1 477.3" fill="none" stroke="#A06428" stroke-width="4.4" stroke-linejoin="round"/></g>
<text transform="translate(444.20,409.70)" font-size="29.8" text-anchor="end" fill="#A06428">Cu-36 s</text>
<text transform="translate(55.20,387.10) translate(-0.6,0) scale(1.17,1)" font-size="29.5" text-anchor="start" fill="#000" stroke="#fff" stroke-width="0.4" textLength="30.26" lengthAdjust="spacing">10</text>
<text transform="translate(90.00,377.90) translate(-0.6,0) scale(1.17,1)" font-size="20.6" text-anchor="start" fill="#000" stroke="#fff" stroke-width="0.4" textLength="10.00" lengthAdjust="spacing">8</text>
<text transform="translate(55.20,446.30) translate(-0.6,0) scale(1.17,1)" font-size="29.5" text-anchor="start" fill="#000" stroke="#fff" stroke-width="0.4" textLength="30.26" lengthAdjust="spacing">10</text>
<text transform="translate(90.00,437.10) translate(-0.6,0) scale(1.17,1)" font-size="20.6" text-anchor="start" fill="#000" stroke="#fff" stroke-width="0.4" textLength="10.00" lengthAdjust="spacing">4</text>
<text transform="translate(112.50,517.50) translate(-0.6,0) scale(1.17,1)" font-size="29.5" text-anchor="middle" fill="#000" stroke="#fff" stroke-width="0.4" textLength="12.65" lengthAdjust="spacing">0</text>
<text transform="translate(230.45,517.50) translate(-0.6,0) scale(1.17,1)" font-size="29.5" text-anchor="middle" fill="#000" stroke="#fff" stroke-width="0.4" textLength="12.65" lengthAdjust="spacing">2</text>
<text transform="translate(348.40,517.50) translate(-0.6,0) scale(1.17,1)" font-size="29.5" text-anchor="middle" fill="#000" stroke="#fff" stroke-width="0.4" textLength="12.65" lengthAdjust="spacing">4</text>
<text transform="translate(466.35,517.50) translate(-0.6,0) scale(1.17,1)" font-size="29.5" text-anchor="middle" fill="#000" stroke="#fff" stroke-width="0.4" textLength="12.65" lengthAdjust="spacing">6</text>
<text transform="translate(28.20,419.30) rotate(-90) translate(-0.6,0) scale(1.17,1)" font-size="29.5" text-anchor="start" fill="#000" stroke="#fff" stroke-width="0.4" textLength="108.97" lengthAdjust="spacing">Intensity</text>
<text transform="translate(28.20,279.90) rotate(-90) translate(-0.6,0) scale(1.17,1)" font-size="29.5" text-anchor="start" fill="#000" stroke="#fff" stroke-width="0.4" textLength="59.15" lengthAdjust="spacing">(arb.</text>
<text transform="translate(28.20,201.20) rotate(-90) translate(-0.6,0) scale(1.17,1)" font-size="29.5" text-anchor="start" fill="#000" stroke="#fff" stroke-width="0.4" textLength="73.08" lengthAdjust="spacing">units)</text>
<text transform="translate(254.50,547.60) translate(-0.6,0) scale(1.17,1)" font-size="29.5" text-anchor="start" fill="#000" stroke="#fff" stroke-width="0.4" textLength="26.24" lengthAdjust="spacing">2<tspan font-style="italic">θ</tspan></text>
<text transform="translate(293.60,547.60) translate(-0.6,0) scale(1.17,1)" font-size="29.5" text-anchor="start" fill="#000" stroke="#fff" stroke-width="0.4" textLength="28.38" lengthAdjust="spacing">(°)</text>
<text transform="translate(1.80,37.40) translate(-0.6,0) scale(1.17,1)" font-size="29.5" text-anchor="start" fill="#000" stroke="#fff" stroke-width="0.4" textLength="34.79" lengthAdjust="spacing">(a)</text>
<text transform="translate(526.40,30.00) translate(-0.6,0) scale(1.17,1)" font-size="29.5" text-anchor="start" fill="#000" stroke="#fff" stroke-width="0.4" textLength="35.64" lengthAdjust="spacing">(b)</text>
<rect x="614.9" y="16.4" width="283.10" height="472.70" fill="none" stroke="#000" stroke-width="2.0"/>
<path d="M614.90 16.4v9.8M614.90 489.1v-9.8M648.60 16.4v6.7M648.60 489.1v-6.7M682.30 16.4v9.8M682.30 489.1v-9.8M716.01 16.4v6.7M716.01 489.1v-6.7M749.71 16.4v9.8M749.71 489.1v-9.8M783.41 16.4v6.7M783.41 489.1v-6.7M817.11 16.4v9.8M817.11 489.1v-9.8M850.82 16.4v6.7M850.82 489.1v-6.7M884.52 16.4v9.8M884.52 489.1v-9.8M614.9 446.13h9.8M898.0 446.13h-9.8M614.9 403.15h6.7M898.0 403.15h-6.7M614.9 360.18h9.8M898.0 360.18h-9.8M614.9 317.21h6.7M898.0 317.21h-6.7M614.9 274.24h9.8M898.0 274.24h-9.8M614.9 231.26h6.7M898.0 231.26h-6.7M614.9 188.29h9.8M898.0 188.29h-9.8M614.9 145.32h6.7M898.0 145.32h-6.7M614.9 102.35h9.8M898.0 102.35h-9.8M614.9 59.37h6.7M898.0 59.37h-6.7" stroke="#000" stroke-width="1.7" fill="none"/>
<text transform="translate(605.20,517.40) translate(-0.6,0) scale(1.17,1)" font-size="29.5" text-anchor="start" fill="#000" stroke="#fff" stroke-width="0.4" textLength="13.33" lengthAdjust="spacing">0</text>
<text transform="translate(662.80,517.40) translate(-0.6,0) scale(1.17,1)" font-size="29.5" text-anchor="start" fill="#000" stroke="#fff" stroke-width="0.4" textLength="30.60" lengthAdjust="spacing">10</text>
<text transform="translate(732.20,517.40) translate(-0.6,0) scale(1.17,1)" font-size="29.5" text-anchor="start" fill="#000" stroke="#fff" stroke-width="0.4" textLength="28.72" lengthAdjust="spacing">20</text>
<text transform="translate(798.50,517.40) translate(-0.6,0) scale(1.17,1)" font-size="29.5" text-anchor="start" fill="#000" stroke="#fff" stroke-width="0.4" textLength="29.06" lengthAdjust="spacing">30</text>
<text transform="translate(867.50,517.40) translate(-0.6,0) scale(1.17,1)" font-size="29.5" text-anchor="start" fill="#000" stroke="#fff" stroke-width="0.4" textLength="28.46" lengthAdjust="spacing">40</text>
<text transform="translate(589.90,454.13) translate(-0.6,0) scale(1.17,1)" font-size="29.5" text-anchor="start" fill="#000" stroke="#fff" stroke-width="0.4" textLength="13.16" lengthAdjust="spacing">1</text>
<text transform="translate(589.90,368.18) translate(-0.6,0) scale(1.17,1)" font-size="29.5" text-anchor="start" fill="#000" stroke="#fff" stroke-width="0.4" textLength="13.16" lengthAdjust="spacing">2</text>
<text transform="translate(589.90,282.24) translate(-0.6,0) scale(1.17,1)" font-size="29.5" text-anchor="start" fill="#000" stroke="#fff" stroke-width="0.4" textLength="13.16" lengthAdjust="spacing">3</text>
<text transform="translate(589.90,196.29) translate(-0.6,0) scale(1.17,1)" font-size="29.5" text-anchor="start" fill="#000" stroke="#fff" stroke-width="0.4" textLength="13.16" lengthAdjust="spacing">4</text>
<text transform="translate(589.90,110.35) translate(-0.6,0) scale(1.17,1)" font-size="29.5" text-anchor="start" fill="#000" stroke="#fff" stroke-width="0.4" textLength="13.16" lengthAdjust="spacing">5</text>
<text transform="translate(589.90,24.40) translate(-0.6,0) scale(1.17,1)" font-size="29.5" text-anchor="start" fill="#000" stroke="#fff" stroke-width="0.4" textLength="13.16" lengthAdjust="spacing">6</text>
<text transform="translate(552.90,370.60) rotate(-90) translate(-0.6,0) scale(1.17,1)" font-size="29.5" text-anchor="start" fill="#000" stroke="#fff" stroke-width="0.4" textLength="122.22" lengthAdjust="spacing">Thickness</text>
<text transform="translate(552.90,215.80) rotate(-90) translate(-0.6,0) scale(1.17,1)" font-size="29.5" text-anchor="start" fill="#000" stroke="#fff" stroke-width="0.4" textLength="60.00" lengthAdjust="spacing">(nm)</text>
<text transform="translate(612.80,554.00) translate(-0.6,0) scale(1.17,1)" font-size="29.5" text-anchor="start" fill="#000" stroke="#fff" stroke-width="0.4" textLength="131.79" lengthAdjust="spacing">Deposition</text>
<text transform="translate(781.20,554.00) translate(-0.6,0) scale(1.17,1)" font-size="29.5" text-anchor="start" fill="#000" stroke="#fff" stroke-width="0.4" textLength="53.16" lengthAdjust="spacing">time</text>
<text transform="translate(857.00,554.00) translate(-0.6,0) scale(1.17,1)" font-size="29.5" text-anchor="start" fill="#000" stroke="#fff" stroke-width="0.4" textLength="31.79" lengthAdjust="spacing">(s)</text>
<g stroke="#8B0000" stroke-width="4.4" fill="#8B0000"><path d="M749.7 250.5V316.1"/><circle cx="749.7" cy="282.8" r="11.5" stroke="none"/><path d="M776.7 216.7V250.9"/><circle cx="776.7" cy="233.8" r="11.5" stroke="none"/><path d="M817.1 177.9V214.8"/><circle cx="817.1" cy="196.9" r="11.5" stroke="none"/><path d="M857.6 86.9V157.9"/><circle cx="857.6" cy="123.0" r="11.5" stroke="none"/></g>
<clipPath id="cb"><rect x="614.9" y="16.4" width="283.10" height="472.70"/></clipPath>
<path d="M614.6 489.6L621.3 479.3M624.6 474.3L631.4 463.9M632.2 462.6L638.5 453.0M642.0 447.6L648.3 438.0M649.3 436.5L655.5 427.0M659.3 421.1L665.8 411.2M666.7 409.9L672.9 400.3M676.5 394.9L683.1 384.8M684.0 383.4L690.3 373.8M693.8 368.4L700.2 358.6M701.1 357.2L707.4 347.6M711.0 342.0L717.5 332.1M718.2 331.0L724.5 321.4M728.0 316.1L734.4 306.2M735.2 305.1L741.8 294.9M745.2 289.8L758.8 269.0M762.0 264.0L776.1 242.5M779.5 237.3L793.3 216.1M796.8 210.8L827.4 163.9M831.1 158.3L845.4 136.4M848.4 131.9L858.0 117.1M865.7 105.4L871.9 95.8M882.9 79.0L889.4 69.1" stroke="#8FB996" stroke-width="4" fill="none" clip-path="url(#cb)"/>
<path stroke="#8B0000" stroke-width="4.4" fill="none" d="M742.8 250.5h13.8M742.8 316.1h13.8M769.8 216.7h13.8M769.8 250.9h13.8M810.2 177.9h13.8M810.2 214.8h13.8M850.7 86.9h13.8M850.7 157.9h13.8"/>
<circle cx="706.7" cy="416.7" r="11.5" fill="#8B0000"/>
<path d="M669.4 458.7H681.3M700.7 458.7H712.5M732 458.7H744" stroke="#8FB996" stroke-width="4" fill="none"/>
<text transform="translate(747.80,425.80) translate(-0.6,0) scale(1.17,1)" font-size="29.5" text-anchor="start" fill="#000" stroke="#fff" stroke-width="0.4" textLength="117.44" lengthAdjust="spacing">Measured</text>
<text transform="translate(746.60,467.70) translate(-0.6,0) scale(1.17,1)" font-size="29.5" text-anchor="start" fill="#000" stroke="#fff" stroke-width="0.4" textLength="79.49" lengthAdjust="spacing">Linear</text>
<text transform="translate(850.00,467.70) translate(-0.6,0) scale(1.17,1)" font-size="29.5" text-anchor="start" fill="#000" stroke="#fff" stroke-width="0.4" textLength="27.95" lengthAdjust="spacing">fit</text>
</svg></body></html>
